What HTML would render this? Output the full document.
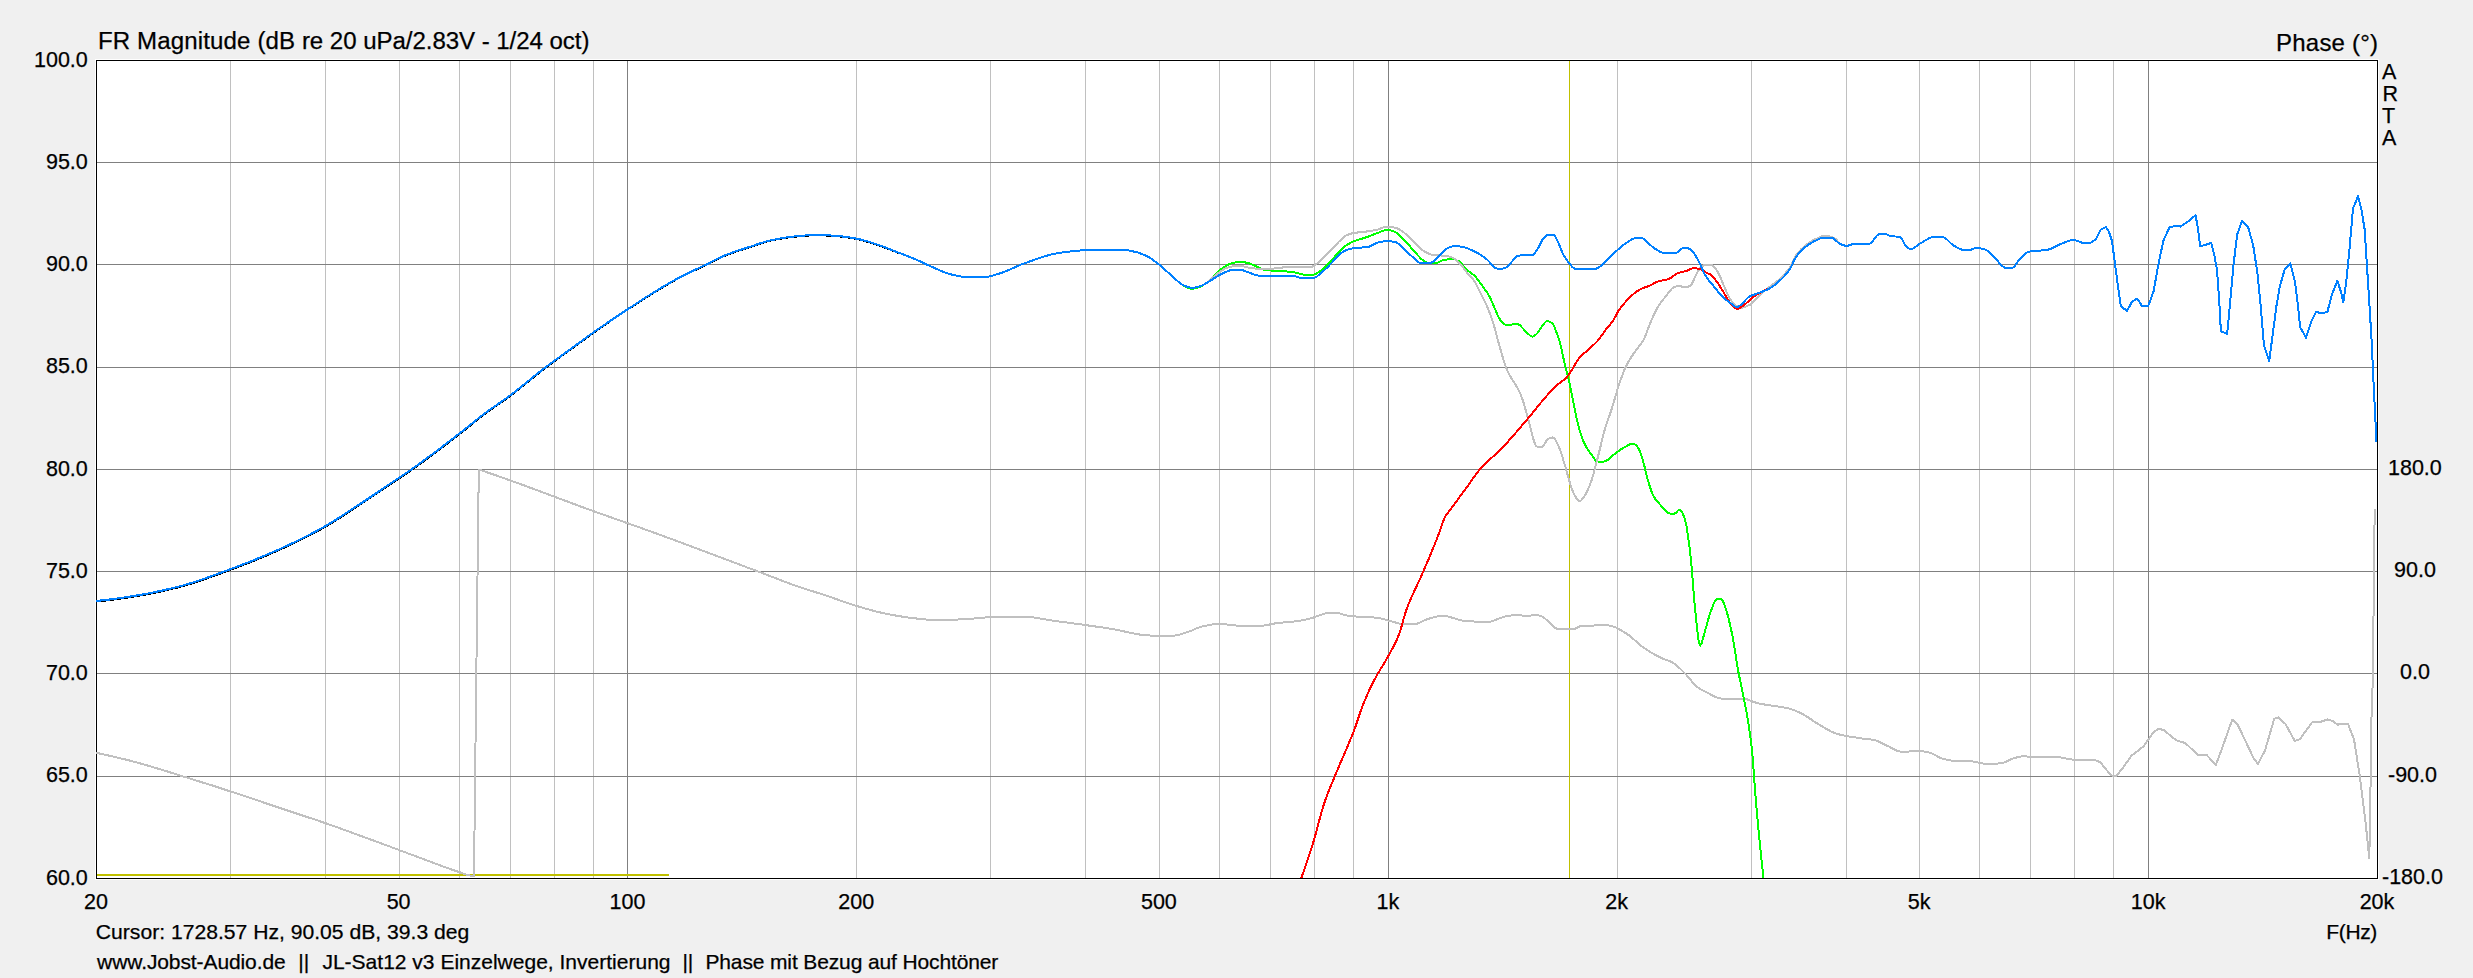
<!DOCTYPE html>
<html lang="de"><head><meta charset="utf-8"><title>FR Magnitude</title>
<style>html,body{margin:0;padding:0;background:#f0f0f0;overflow:hidden}body{width:2473px;height:978px;position:relative}text{white-space:pre}</style>
</head><body>
<svg width="2473" height="978" viewBox="0 0 2473 978" style="position:absolute;left:0;top:0">
<rect x="95" y="59" width="2284" height="821" fill="#fff"/>
<g shape-rendering="crispEdges"><rect x="230" y="61" width="1" height="817" fill="#c0c0c0"/><rect x="325" y="61" width="1" height="817" fill="#c0c0c0"/><rect x="399" y="61" width="1" height="817" fill="#c0c0c0"/><rect x="459" y="61" width="1" height="817" fill="#c0c0c0"/><rect x="510" y="61" width="1" height="817" fill="#c0c0c0"/><rect x="554" y="61" width="1" height="817" fill="#c0c0c0"/><rect x="593" y="61" width="1" height="817" fill="#c0c0c0"/><rect x="627" y="61" width="1" height="817" fill="#808080"/><rect x="856" y="61" width="1" height="817" fill="#c0c0c0"/><rect x="990" y="61" width="1" height="817" fill="#c0c0c0"/><rect x="1085" y="61" width="1" height="817" fill="#c0c0c0"/><rect x="1159" y="61" width="1" height="817" fill="#c0c0c0"/><rect x="1219" y="61" width="1" height="817" fill="#c0c0c0"/><rect x="1270" y="61" width="1" height="817" fill="#c0c0c0"/><rect x="1314" y="61" width="1" height="817" fill="#c0c0c0"/><rect x="1353" y="61" width="1" height="817" fill="#c0c0c0"/><rect x="1388" y="61" width="1" height="817" fill="#808080"/><rect x="1617" y="61" width="1" height="817" fill="#c0c0c0"/><rect x="1751" y="61" width="1" height="817" fill="#c0c0c0"/><rect x="1846" y="61" width="1" height="817" fill="#c0c0c0"/><rect x="1919" y="61" width="1" height="817" fill="#c0c0c0"/><rect x="1979" y="61" width="1" height="817" fill="#c0c0c0"/><rect x="2030" y="61" width="1" height="817" fill="#c0c0c0"/><rect x="2074" y="61" width="1" height="817" fill="#c0c0c0"/><rect x="2113" y="61" width="1" height="817" fill="#c0c0c0"/><rect x="2148" y="61" width="1" height="817" fill="#808080"/><rect x="97" y="776" width="2280" height="1" fill="#808080"/><rect x="97" y="673" width="2280" height="1" fill="#808080"/><rect x="97" y="571" width="2280" height="1" fill="#808080"/><rect x="97" y="469" width="2280" height="1" fill="#808080"/><rect x="97" y="367" width="2280" height="1" fill="#808080"/><rect x="97" y="264" width="2280" height="1" fill="#808080"/><rect x="97" y="162" width="2280" height="1" fill="#808080"/></g>
<rect x="97" y="874" width="572" height="2" fill="#c0c000"/>
<rect x="1569" y="61" width="1" height="817" fill="#c0c000"/>
<g shape-rendering="crispEdges" fill="#000"><rect x="96" y="60" width="2282" height="1"/><rect x="96" y="878" width="2282" height="1"/><rect x="96" y="60" width="1" height="819"/><rect x="2377" y="60" width="1" height="819"/></g>
<clipPath id="cp"><rect x="96" y="60" width="2282" height="819"/></clipPath><g clip-path="url(#cp)">
<polyline points="96.0,752.8 97.5,753.1 99.0,753.4 100.5,753.7 102.0,754.1 103.5,754.4 105.0,754.7 106.5,755.1 108.0,755.4 109.6,755.7 111.1,756.1 112.6,756.4 114.1,756.8 115.6,757.1 117.1,757.5 118.6,757.8 120.1,758.2 121.6,758.6 123.1,758.9 124.6,759.3 126.1,759.7 127.6,760.1 129.1,760.4 130.6,760.8 132.1,761.2 133.6,761.6 135.2,762.0 136.7,762.4 138.2,762.8 139.7,763.3 141.2,763.7 142.7,764.1 144.2,764.5 145.7,765.0 147.2,765.4 148.7,765.8 150.2,766.3 151.7,766.7 153.2,767.2 154.7,767.6 156.2,768.1 157.7,768.6 159.3,769.0 160.8,769.5 162.3,769.9 163.8,770.4 165.3,770.9 166.8,771.3 168.3,771.8 169.8,772.3 171.3,772.7 172.8,773.2 174.3,773.7 175.8,774.1 177.3,774.6 178.8,775.1 180.3,775.5 181.8,776.0 183.3,776.5 184.9,776.9 186.4,777.4 187.9,777.9 189.4,778.3 190.9,778.8 192.4,779.3 193.9,779.7 195.4,780.2 196.9,780.7 198.4,781.1 199.9,781.6 201.4,782.1 202.9,782.6 204.4,783.0 205.9,783.5 207.4,784.0 208.9,784.5 210.5,784.9 212.0,785.4 213.5,785.9 215.0,786.4 216.5,786.9 218.0,787.4 219.5,787.8 221.0,788.3 222.5,788.8 224.0,789.3 225.5,789.8 227.0,790.3 228.5,790.8 230.0,791.3 231.5,791.7 233.0,792.2 234.5,792.7 236.1,793.2 237.6,793.7 239.1,794.2 240.6,794.7 242.1,795.2 243.6,795.7 245.1,796.2 246.6,796.7 248.1,797.3 249.6,797.8 251.1,798.3 252.6,798.8 254.1,799.3 255.6,799.8 257.1,800.3 258.6,800.8 260.2,801.3 261.7,801.8 263.2,802.4 264.7,802.9 266.2,803.4 267.7,803.9 269.2,804.4 270.7,804.9 272.2,805.4 273.7,805.9 275.2,806.4 276.7,806.9 278.2,807.4 279.7,807.9 281.2,808.4 282.7,808.9 284.2,809.4 285.8,809.9 287.3,810.4 288.8,810.9 290.3,811.4 291.8,811.9 293.3,812.4 294.8,812.9 296.3,813.4 297.8,813.9 299.3,814.4 300.8,814.9 302.3,815.4 303.8,815.9 305.3,816.4 306.8,816.9 308.3,817.4 309.8,817.9 311.4,818.4 312.9,818.9 314.4,819.4 315.9,819.9 317.4,820.4 318.9,820.9 320.4,821.4 321.9,822.0 323.4,822.5 324.9,823.0 326.4,823.5 327.9,824.0 329.4,824.6 330.9,825.1 332.4,825.6 333.9,826.2 335.5,826.7 337.0,827.2 338.5,827.8 340.0,828.3 341.5,828.9 343.0,829.4 344.5,830.0 346.0,830.5 347.5,831.1 349.0,831.6 350.5,832.1 352.0,832.7 353.5,833.2 355.0,833.8 356.5,834.4 358.0,834.9 359.5,835.5 361.1,836.0 362.6,836.6 364.1,837.1 365.6,837.7 367.1,838.2 368.6,838.8 370.1,839.3 371.6,839.9 373.1,840.4 374.6,841.0 376.1,841.5 377.6,842.1 379.1,842.6 380.6,843.2 382.1,843.8 383.6,844.3 385.1,844.9 386.7,845.4 388.2,846.0 389.7,846.5 391.2,847.1 392.7,847.7 394.2,848.2 395.7,848.8 397.2,849.3 398.7,849.9 400.2,850.5 401.7,851.0 403.2,851.6 404.7,852.1 406.2,852.7 407.7,853.3 409.2,853.8 410.7,854.4 412.3,854.9 413.8,855.5 415.3,856.1 416.8,856.6 418.3,857.2 419.8,857.7 421.3,858.3 422.8,858.8 424.3,859.4 425.8,860.0 427.3,860.5 428.8,861.1 430.3,861.7 431.8,862.2 433.3,862.8 434.8,863.4 436.4,863.9 437.9,864.5 439.4,865.1 440.9,865.6 442.4,866.2 443.9,866.7 445.4,867.3 446.9,867.8 448.4,868.4 449.9,868.9 451.4,869.5 452.9,870.0 454.4,870.5 455.9,871.0 457.4,871.5 458.9,872.0 460.4,872.5 462.0,873.0 463.5,873.6 465.0,874.1 466.5,874.6 468.0,875.0 469.5,875.4 471.0,875.6 472.5,875.7 474.0,875.8 474.0,875.8 476.0,700.0 478.8,469.5 478.8,469.5 480.3,470.0 481.8,470.5 483.3,471.0 484.8,471.5 486.3,472.0 487.8,472.6 489.3,473.1 490.8,473.6 492.3,474.1 493.8,474.6 495.3,475.1 496.8,475.7 498.3,476.2 499.8,476.7 501.3,477.2 502.8,477.8 504.3,478.3 505.8,478.8 507.3,479.4 508.8,479.9 510.3,480.4 511.8,481.0 513.3,481.5 514.8,482.0 516.3,482.6 517.8,483.1 519.3,483.7 520.8,484.2 522.3,484.8 523.8,485.3 525.3,485.9 526.8,486.4 528.3,487.0 529.8,487.6 531.3,488.1 532.9,488.7 534.4,489.2 535.9,489.8 537.4,490.4 538.9,490.9 540.4,491.5 541.9,492.0 543.4,492.6 544.9,493.2 546.4,493.7 547.9,494.3 549.4,494.8 550.9,495.4 552.4,496.0 553.9,496.5 555.4,497.1 556.9,497.6 558.4,498.2 559.9,498.7 561.4,499.3 562.9,499.9 564.4,500.4 565.9,501.0 567.4,501.5 568.9,502.1 570.4,502.7 571.9,503.2 573.4,503.8 574.9,504.3 576.4,504.9 577.9,505.4 579.4,506.0 580.9,506.6 582.4,507.1 583.9,507.7 585.4,508.2 586.9,508.8 588.4,509.3 589.9,509.9 591.4,510.4 592.9,510.9 594.4,511.5 595.9,512.0 597.4,512.6 598.9,513.1 600.4,513.6 601.9,514.2 603.4,514.7 604.9,515.2 606.4,515.7 607.9,516.3 609.4,516.8 610.9,517.3 612.4,517.8 613.9,518.4 615.4,518.9 616.9,519.4 618.4,519.9 619.9,520.5 621.4,521.0 622.9,521.5 624.4,522.0 625.9,522.6 627.4,523.1 628.9,523.6 630.4,524.2 631.9,524.7 633.4,525.3 634.9,525.8 636.4,526.3 637.9,526.9 639.4,527.4 641.0,527.9 642.5,528.5 644.0,529.0 645.5,529.6 647.0,530.1 648.5,530.7 650.0,531.2 651.5,531.7 653.0,532.3 654.5,532.8 656.0,533.4 657.5,533.9 659.0,534.5 660.5,535.0 662.0,535.6 663.5,536.1 665.0,536.7 666.5,537.2 668.0,537.8 669.5,538.3 671.0,538.9 672.5,539.4 674.0,540.0 675.5,540.5 677.0,541.1 678.5,541.6 680.0,542.2 681.5,542.7 683.0,543.3 684.5,543.9 686.0,544.4 687.5,545.0 689.0,545.5 690.5,546.1 692.0,546.7 693.5,547.2 695.0,547.8 696.5,548.4 698.0,548.9 699.5,549.5 701.0,550.1 702.5,550.6 704.0,551.2 705.5,551.8 707.0,552.3 708.5,552.9 710.0,553.5 711.5,554.0 713.0,554.6 714.5,555.2 716.0,555.7 717.5,556.3 719.0,556.9 720.5,557.4 722.0,558.0 723.5,558.5 725.0,559.1 726.5,559.7 728.0,560.2 729.5,560.8 731.0,561.4 732.5,561.9 734.0,562.5 735.5,563.1 737.0,563.6 738.5,564.2 740.0,564.7 741.5,565.3 743.0,565.9 744.5,566.4 746.0,567.0 747.5,567.6 749.1,568.1 750.6,568.7 752.1,569.2 753.6,569.8 755.1,570.4 756.6,570.9 758.1,571.5 759.6,572.1 761.1,572.6 762.6,573.2 764.1,573.8 765.6,574.4 767.1,574.9 768.6,575.5 770.1,576.1 771.6,576.7 773.1,577.3 774.6,577.8 776.1,578.4 777.6,579.0 779.1,579.6 780.6,580.2 782.1,580.7 783.6,581.3 785.1,581.9 786.6,582.4 788.1,583.0 789.6,583.5 791.1,584.1 792.6,584.6 794.1,585.1 795.6,585.7 797.1,586.2 798.6,586.7 800.1,587.2 801.6,587.7 803.1,588.2 804.6,588.7 806.1,589.2 807.6,589.6 809.1,590.1 810.6,590.6 812.1,591.1 813.6,591.5 815.1,592.0 816.6,592.5 818.1,593.0 819.6,593.4 821.1,593.9 822.6,594.4 824.1,594.9 825.6,595.4 827.1,595.9 828.6,596.4 830.1,596.9 831.6,597.4 833.1,597.9 834.6,598.5 836.1,599.0 837.6,599.5 839.1,600.1 840.6,600.6 842.1,601.1 843.6,601.7 845.1,602.2 846.6,602.7 848.1,603.2 849.6,603.7 851.1,604.2 852.6,604.7 854.1,605.2 855.6,605.7 857.2,606.1 858.7,606.6 860.2,607.0 861.7,607.5 863.2,607.9 864.7,608.3 866.2,608.8 867.7,609.2 869.2,609.6 870.7,610.0 872.2,610.4 873.7,610.8 875.2,611.2 876.7,611.6 878.2,612.0 879.7,612.3 881.2,612.7 882.7,613.0 884.2,613.3 885.7,613.7 887.2,614.0 888.7,614.3 890.2,614.5 891.7,614.8 893.2,615.1 894.7,615.4 896.2,615.6 897.7,615.9 899.2,616.2 900.7,616.4 902.2,616.6 903.7,616.9 905.2,617.1 906.7,617.3 908.2,617.5 909.7,617.7 911.2,617.9 912.7,618.0 914.2,618.2 915.7,618.4 917.2,618.6 918.7,618.7 920.2,618.9 921.7,619.1 923.2,619.2 924.7,619.3 926.2,619.5 927.7,619.6 929.2,619.6 930.7,619.7 932.2,619.8 933.7,619.8 935.2,619.9 936.7,620.0 938.2,620.0 939.7,620.0 941.2,620.0 942.7,620.0 944.2,620.0 945.7,619.9 947.2,619.9 948.7,619.9 950.2,619.8 951.7,619.7 953.2,619.7 954.7,619.6 956.2,619.6 957.7,619.5 959.2,619.4 960.7,619.4 962.2,619.3 963.8,619.2 965.3,619.2 966.8,619.1 968.3,619.0 969.8,618.9 971.3,618.7 972.8,618.6 974.3,618.5 975.8,618.4 977.3,618.2 978.8,618.1 980.3,617.9 981.8,617.8 983.3,617.6 984.8,617.5 986.3,617.4 987.8,617.3 989.3,617.2 990.8,617.1 992.3,617.0 993.8,616.9 995.3,616.9 996.8,616.8 998.3,616.8 999.8,616.8 1001.3,616.8 1002.8,616.8 1004.3,616.8 1005.8,616.8 1007.3,616.8 1008.8,616.8 1010.3,616.8 1011.8,616.8 1013.3,616.8 1014.8,616.8 1016.3,616.8 1017.8,616.8 1019.3,616.8 1020.8,616.8 1022.3,616.8 1023.8,616.8 1025.3,616.8 1026.8,616.8 1028.3,616.9 1029.8,617.0 1031.3,617.2 1032.8,617.3 1034.3,617.5 1035.8,617.7 1037.3,618.0 1038.8,618.2 1040.3,618.5 1041.8,618.8 1043.3,619.0 1044.8,619.3 1046.3,619.6 1047.8,619.8 1049.3,620.1 1050.8,620.4 1052.3,620.6 1053.8,620.8 1055.3,621.0 1056.8,621.2 1058.3,621.4 1059.8,621.6 1061.3,621.8 1062.8,622.0 1064.3,622.2 1065.8,622.4 1067.3,622.6 1068.8,622.8 1070.3,623.0 1071.9,623.2 1073.4,623.4 1074.9,623.6 1076.4,623.8 1077.9,624.0 1079.4,624.2 1080.9,624.4 1082.4,624.6 1083.9,624.9 1085.4,625.1 1086.9,625.3 1088.4,625.5 1089.9,625.7 1091.4,625.9 1092.9,626.1 1094.4,626.3 1095.9,626.6 1097.4,626.8 1098.9,627.0 1100.4,627.2 1101.9,627.4 1103.4,627.6 1104.9,627.9 1106.4,628.1 1107.9,628.3 1109.4,628.6 1110.9,628.8 1112.4,629.0 1113.9,629.3 1115.4,629.6 1116.9,629.8 1118.4,630.1 1119.9,630.5 1121.4,630.8 1122.9,631.1 1124.4,631.5 1125.9,631.8 1127.4,632.1 1128.9,632.5 1130.4,632.8 1131.9,633.1 1133.4,633.4 1134.9,633.7 1136.4,634.0 1137.9,634.2 1139.4,634.5 1140.9,634.7 1142.4,634.8 1143.9,635.0 1145.4,635.1 1146.9,635.3 1148.4,635.4 1149.9,635.5 1151.4,635.7 1152.9,635.8 1154.4,635.9 1155.9,635.9 1157.4,636.0 1158.9,636.0 1160.4,636.0 1161.9,636.0 1163.4,636.0 1164.9,635.9 1166.4,635.9 1167.9,635.9 1169.4,635.8 1170.9,635.8 1172.4,635.7 1173.9,635.6 1175.4,635.5 1176.9,635.3 1178.4,635.0 1180.0,634.6 1181.5,634.1 1183.0,633.6 1184.5,633.1 1186.0,632.6 1187.5,632.2 1189.0,631.6 1190.5,631.0 1192.0,630.4 1193.5,629.7 1195.0,629.0 1196.5,628.4 1198.0,627.8 1199.5,627.2 1201.0,626.8 1202.5,626.4 1204.0,626.1 1205.5,625.8 1207.0,625.5 1208.5,625.2 1210.0,624.9 1211.5,624.6 1213.0,624.4 1214.5,624.2 1216.0,624.1 1217.5,624.0 1219.0,623.9 1220.5,623.9 1222.0,624.0 1223.5,624.1 1225.0,624.2 1226.5,624.4 1228.0,624.6 1229.5,624.8 1231.0,625.0 1232.5,625.2 1234.0,625.4 1235.5,625.5 1237.0,625.6 1238.5,625.7 1240.0,625.7 1241.5,625.7 1243.0,625.7 1244.5,625.7 1246.0,625.7 1247.5,625.7 1249.0,625.7 1250.5,625.7 1252.0,625.7 1253.5,625.7 1255.0,625.7 1256.5,625.7 1258.0,625.7 1259.5,625.7 1261.0,625.7 1262.5,625.7 1264.0,625.5 1265.5,625.3 1267.0,625.0 1268.5,624.7 1270.0,624.4 1271.5,624.0 1273.0,623.7 1274.5,623.5 1276.0,623.2 1277.5,623.1 1279.0,622.9 1280.5,622.8 1282.0,622.6 1283.5,622.5 1285.0,622.4 1286.6,622.2 1288.1,622.1 1289.6,622.0 1291.1,621.8 1292.6,621.7 1294.1,621.5 1295.6,621.3 1297.1,621.1 1298.6,620.9 1300.1,620.7 1301.6,620.4 1303.1,620.1 1304.6,619.8 1306.1,619.5 1307.6,619.2 1309.1,618.8 1310.6,618.4 1312.1,618.0 1313.6,617.4 1315.1,616.8 1316.6,616.2 1318.1,615.7 1319.6,615.2 1321.1,614.7 1322.6,614.2 1324.1,613.7 1325.6,613.3 1327.1,613.1 1328.6,613.0 1330.1,613.0 1331.6,613.0 1333.1,613.0 1334.6,613.0 1336.1,613.0 1337.6,613.1 1339.1,613.3 1340.6,613.6 1342.1,614.1 1343.6,614.6 1345.1,615.0 1346.6,615.5 1348.1,615.9 1349.6,616.1 1351.1,616.2 1352.6,616.3 1354.1,616.4 1355.6,616.5 1357.1,616.5 1358.6,616.6 1360.1,616.6 1361.6,616.7 1363.1,616.7 1364.6,616.8 1366.1,616.9 1367.6,617.0 1369.1,617.1 1370.6,617.2 1372.1,617.3 1373.6,617.4 1375.1,617.6 1376.6,617.7 1378.1,617.9 1379.6,618.1 1381.1,618.5 1382.6,618.8 1384.1,619.3 1385.6,619.8 1387.1,620.2 1388.6,620.7 1390.1,621.1 1391.6,621.5 1393.1,621.9 1394.7,622.3 1396.2,622.7 1397.7,623.1 1399.2,623.5 1400.7,623.7 1402.2,623.9 1403.7,623.9 1405.2,623.9 1406.7,623.9 1408.2,623.9 1409.7,623.9 1411.2,623.9 1412.7,623.9 1414.2,623.9 1415.7,623.9 1417.2,623.6 1418.7,623.1 1420.2,622.5 1421.7,621.7 1423.2,621.0 1424.7,620.2 1426.2,619.6 1427.7,619.1 1429.2,618.6 1430.7,618.2 1432.2,617.7 1433.7,617.3 1435.2,616.9 1436.7,616.5 1438.2,616.2 1439.7,616.0 1441.2,615.8 1442.7,615.8 1444.2,615.9 1445.7,616.1 1447.2,616.4 1448.7,616.7 1450.2,617.1 1451.7,617.6 1453.2,618.0 1454.7,618.5 1456.2,619.0 1457.7,619.5 1459.2,619.9 1460.7,620.3 1462.2,620.6 1463.7,620.8 1465.2,620.9 1466.7,621.0 1468.2,621.1 1469.7,621.2 1471.2,621.3 1472.7,621.4 1474.2,621.5 1475.7,621.6 1477.2,621.7 1478.7,621.7 1480.2,621.8 1481.7,621.8 1483.2,621.9 1484.7,621.9 1486.2,621.9 1487.7,621.9 1489.2,621.8 1490.7,621.5 1492.2,621.1 1493.7,620.6 1495.2,620.1 1496.7,619.5 1498.2,618.9 1499.7,618.2 1501.2,617.7 1502.8,617.2 1504.3,616.7 1505.8,616.4 1507.3,616.1 1508.8,615.8 1510.3,615.6 1511.8,615.3 1513.3,615.1 1514.8,615.0 1516.3,615.0 1517.8,615.1 1519.3,615.2 1520.8,615.3 1522.3,615.5 1523.8,615.7 1525.3,615.9 1526.8,616.0 1528.3,616.0 1529.8,615.8 1531.3,615.5 1532.8,615.1 1534.3,614.9 1535.8,614.8 1537.3,615.0 1538.8,615.4 1540.3,616.0 1541.8,616.5 1543.3,617.3 1544.8,618.4 1546.3,619.7 1547.8,621.1 1549.3,622.6 1550.8,624.2 1552.3,625.6 1553.8,626.9 1555.3,628.0 1556.8,628.7 1558.3,629.1 1559.8,629.1 1561.3,629.1 1562.8,629.1 1564.3,629.1 1565.8,629.1 1567.3,629.1 1568.8,629.1 1570.3,629.1 1571.8,629.1 1573.3,629.1 1574.8,628.8 1576.3,628.1 1577.8,627.3 1579.3,626.5 1580.8,626.1 1582.3,625.9 1583.8,625.9 1585.3,625.8 1586.8,625.8 1588.3,625.8 1589.8,625.7 1591.3,625.7 1592.8,625.6 1594.3,625.5 1595.8,625.4 1597.3,625.1 1598.8,624.9 1600.3,624.7 1601.8,624.6 1603.3,624.6 1604.8,624.8 1606.3,625.0 1607.8,625.2 1609.3,625.5 1610.9,625.8 1612.4,626.2 1613.9,626.7 1615.4,627.3 1616.9,628.1 1618.4,628.8 1619.9,629.7 1621.4,630.6 1622.9,631.5 1624.4,632.4 1625.9,633.3 1627.4,634.3 1628.9,635.3 1630.4,636.5 1631.9,637.7 1633.4,639.0 1634.9,640.4 1636.4,641.7 1637.9,643.1 1639.4,644.4 1640.9,645.6 1642.4,646.8 1643.9,647.9 1645.4,648.9 1646.9,649.9 1648.4,650.9 1649.9,651.8 1651.4,652.7 1652.9,653.5 1654.4,654.4 1655.9,655.2 1657.4,656.0 1658.9,656.7 1660.4,657.5 1661.9,658.2 1663.4,658.8 1664.9,659.4 1666.4,659.9 1667.9,660.4 1669.4,661.0 1670.9,661.6 1672.4,662.4 1673.9,663.4 1675.4,664.5 1676.9,665.8 1678.4,667.1 1679.9,668.5 1681.4,669.9 1682.9,671.4 1684.4,672.8 1685.9,674.4 1687.4,676.1 1688.9,677.9 1690.4,679.7 1691.9,681.5 1693.4,683.2 1694.9,684.8 1696.4,686.2 1697.9,687.4 1699.4,688.5 1700.9,689.4 1702.4,690.2 1703.9,691.0 1705.4,691.8 1706.9,692.5 1708.4,693.3 1709.9,694.1 1711.4,694.9 1712.9,695.7 1714.4,696.4 1715.9,697.1 1717.5,697.7 1719.0,698.1 1720.5,698.4 1722.0,698.6 1723.5,698.6 1725.0,698.6 1726.5,698.6 1728.0,698.6 1729.5,698.6 1731.0,698.6 1732.5,698.6 1734.0,698.6 1735.5,698.6 1737.0,698.6 1738.5,698.6 1740.0,698.6 1741.5,698.6 1743.0,698.6 1744.5,698.7 1746.0,699.0 1747.5,699.5 1749.0,700.0 1750.5,700.6 1752.0,701.2 1753.5,701.9 1755.0,702.4 1756.5,702.9 1758.0,703.3 1759.5,703.6 1761.0,703.9 1762.5,704.2 1764.0,704.4 1765.5,704.7 1767.0,704.9 1768.5,705.1 1770.0,705.3 1771.5,705.6 1773.0,705.8 1774.5,706.0 1776.0,706.2 1777.5,706.4 1779.0,706.6 1780.5,706.9 1782.0,707.1 1783.5,707.4 1785.0,707.7 1786.5,708.0 1788.0,708.3 1789.5,708.7 1791.0,709.1 1792.5,709.6 1794.0,710.2 1795.5,710.8 1797.0,711.4 1798.5,712.1 1800.0,712.8 1801.5,713.6 1803.0,714.3 1804.5,715.2 1806.0,716.1 1807.5,717.0 1809.0,718.0 1810.5,719.0 1812.0,720.0 1813.5,721.1 1815.0,722.1 1816.5,723.0 1818.0,723.9 1819.5,724.8 1821.0,725.7 1822.5,726.6 1824.0,727.5 1825.6,728.4 1827.1,729.3 1828.6,730.1 1830.1,731.0 1831.6,731.7 1833.1,732.4 1834.6,733.0 1836.1,733.5 1837.6,734.0 1839.1,734.4 1840.6,734.8 1842.1,735.1 1843.6,735.4 1845.1,735.7 1846.6,736.0 1848.1,736.3 1849.6,736.6 1851.1,736.8 1852.6,737.1 1854.1,737.3 1855.6,737.5 1857.1,737.8 1858.6,738.0 1860.1,738.2 1861.6,738.4 1863.1,738.6 1864.6,738.7 1866.1,738.9 1867.6,739.0 1869.1,739.2 1870.6,739.4 1872.1,739.6 1873.6,739.9 1875.1,740.2 1876.6,740.7 1878.1,741.4 1879.6,742.1 1881.1,742.8 1882.6,743.6 1884.1,744.3 1885.6,745.0 1887.1,745.7 1888.6,746.4 1890.1,747.2 1891.6,748.0 1893.1,748.8 1894.6,749.6 1896.1,750.3 1897.6,750.9 1899.1,751.3 1900.6,751.7 1902.1,751.8 1903.6,751.8 1905.1,751.7 1906.6,751.7 1908.1,751.6 1909.6,751.5 1911.1,751.3 1912.6,751.2 1914.1,751.1 1915.6,751.1 1917.1,751.0 1918.6,751.0 1920.1,751.1 1921.6,751.2 1923.1,751.4 1924.6,751.6 1926.1,751.9 1927.6,752.3 1929.1,752.6 1930.6,753.0 1932.1,753.5 1933.7,754.2 1935.2,755.1 1936.7,756.0 1938.2,756.9 1939.7,757.6 1941.2,758.2 1942.7,758.6 1944.2,759.0 1945.7,759.4 1947.2,759.8 1948.7,760.1 1950.2,760.4 1951.7,760.7 1953.2,760.8 1954.7,761.0 1956.2,761.0 1957.7,761.1 1959.2,761.1 1960.7,761.2 1962.2,761.2 1963.7,761.2 1965.2,761.2 1966.7,761.3 1968.2,761.3 1969.7,761.3 1971.2,761.4 1972.7,761.5 1974.2,761.7 1975.7,762.0 1977.2,762.3 1978.7,762.7 1980.2,763.0 1981.7,763.3 1983.2,763.6 1984.7,763.8 1986.2,763.8 1987.7,763.8 1989.2,763.8 1990.7,763.8 1992.2,763.7 1993.7,763.7 1995.2,763.6 1996.7,763.6 1998.2,763.5 1999.7,763.4 2001.2,763.3 2002.7,763.0 2004.2,762.5 2005.7,761.9 2007.2,761.2 2008.7,760.4 2010.2,759.7 2011.7,759.1 2013.2,758.5 2014.7,758.0 2016.2,757.6 2017.7,757.2 2019.2,756.9 2020.7,756.5 2022.2,756.3 2023.7,756.1 2025.2,756.1 2026.7,756.4 2028.2,756.7 2029.7,757.0 2031.2,757.1 2032.7,757.1 2034.2,757.1 2035.7,757.1 2037.2,757.1 2038.7,757.1 2040.2,757.1 2041.8,757.1 2043.3,757.1 2044.8,757.1 2046.3,757.1 2047.8,757.1 2049.3,757.1 2050.8,757.1 2052.3,757.1 2053.8,757.1 2055.3,757.1 2056.8,757.1 2058.3,757.2 2059.8,757.4 2061.3,757.6 2062.8,757.9 2064.3,758.2 2065.8,758.5 2067.3,758.8 2068.8,759.0 2070.3,759.3 2071.8,759.5 2073.3,759.7 2074.8,759.8 2076.3,759.8 2077.8,759.8 2079.3,759.8 2080.8,759.8 2082.3,759.8 2083.8,759.8 2085.3,759.8 2086.8,759.8 2088.3,759.8 2089.8,759.8 2091.3,759.8 2092.8,759.8 2094.3,759.8 2094.3,759.8 2100.4,762.2 2106.5,770.0 2111.7,775.5 2116.8,775.5 2122.9,767.9 2131.1,756.1 2143.4,746.5 2153.6,732.1 2158.7,728.7 2163.8,730.1 2176.1,740.3 2185.3,743.0 2197.5,754.6 2206.7,755.1 2215.9,764.9 2223.1,745.4 2232.3,719.5 2237.4,724.0 2245.6,741.3 2253.8,758.7 2257.9,763.8 2265.0,750.6 2274.2,718.9 2278.3,717.4 2285.5,724.0 2294.7,740.9 2299.8,739.3 2312.1,722.3 2320.2,721.9 2327.4,719.5 2332.5,720.9 2337.6,724.6 2347.9,723.6 2354.0,739.3 2360.1,778.2 2365.2,819.1 2369.3,857.9 2370.3,802.7 2371.4,720.9 2372.8,680.0 2374.7,509.0" fill="none" stroke="#c0c0c0" stroke-width="2" stroke-linejoin="round" shape-rendering="crispEdges"/>
<polyline points="1183.3,285.6 1184.8,286.5 1186.3,287.3 1187.8,288.0 1189.3,288.4 1190.8,288.6 1192.3,288.7 1193.8,288.5 1195.4,288.3 1196.9,287.9 1198.4,287.4 1199.9,286.9 1201.4,286.2 1202.9,285.3 1204.4,284.3 1205.9,283.2 1207.4,282.1 1208.9,280.9 1210.4,279.6 1211.9,278.1 1213.4,276.5 1214.9,274.9 1216.5,273.4 1218.0,271.8 1219.5,270.4 1221.0,269.1 1222.5,268.1 1224.0,267.1 1225.5,266.1 1227.0,265.3 1228.5,264.5 1230.0,263.9 1231.5,263.4 1233.0,263.0 1234.5,262.6 1236.0,262.2 1237.6,262.0 1239.1,261.8 1240.6,261.8 1242.1,261.9 1243.6,262.1 1245.1,262.4 1246.6,262.8 1248.1,263.1 1249.6,263.5 1251.1,264.1 1252.6,264.7 1254.1,265.4 1255.6,266.1 1257.1,266.7 1258.7,267.4 1260.2,268.2 1261.7,269.0 1263.2,269.7 1264.7,270.1 1266.2,270.2 1267.7,270.3 1269.2,270.4 1270.7,270.5 1272.2,270.6 1273.7,270.6 1275.2,270.7 1276.7,270.8 1278.2,270.8 1279.7,270.9 1281.3,271.0 1282.8,271.1 1284.3,271.2 1285.8,271.4 1287.3,271.5 1288.8,271.6 1290.3,271.8 1291.8,271.9 1293.3,272.1 1294.8,272.4 1296.3,272.7 1297.8,273.2 1299.3,273.6 1300.8,274.0 1302.4,274.4 1303.9,274.7 1305.4,274.8 1306.9,274.8 1308.4,274.8 1309.9,274.8 1311.4,274.8 1312.9,274.8 1314.4,274.5 1315.9,273.9 1317.4,273.0 1318.9,272.0 1320.4,270.9 1321.9,269.8 1323.5,268.6 1325.0,267.2 1326.5,265.6 1328.0,264.0 1329.5,262.3 1331.0,260.6 1332.5,259.0 1334.0,257.5 1335.5,255.9 1337.0,254.2 1338.5,252.5 1340.0,250.9 1341.5,249.4 1343.0,247.9 1344.6,246.6 1346.1,245.5 1347.6,244.5 1349.1,243.6 1350.6,242.8 1352.1,242.0 1353.6,241.3 1355.1,240.7 1356.6,240.2 1358.1,239.7 1359.6,239.3 1361.1,238.9 1362.6,238.5 1364.1,238.0 1365.6,237.5 1367.2,237.0 1368.7,236.4 1370.2,235.8 1371.7,235.3 1373.2,234.7 1374.7,234.1 1376.2,233.5 1377.7,233.0 1379.2,232.4 1380.7,231.7 1382.2,231.1 1383.7,230.6 1385.2,230.2 1386.7,229.9 1388.3,229.9 1389.8,230.2 1391.3,230.6 1392.8,231.1 1394.3,231.7 1395.8,232.3 1397.3,233.2 1398.8,234.5 1400.3,235.9 1401.8,237.5 1403.3,239.2 1404.8,240.9 1406.3,242.5 1407.8,244.1 1409.4,245.7 1410.9,247.5 1412.4,249.2 1413.9,250.9 1415.4,252.5 1416.9,254.2 1418.4,255.9 1419.9,257.5 1421.4,259.0 1422.9,260.2 1424.4,261.1 1425.9,261.9 1427.4,262.6 1428.9,262.9 1430.5,262.9 1432.0,262.9 1433.5,262.9 1435.0,262.9 1436.5,262.9 1438.0,262.6 1439.5,261.9 1441.0,261.1 1442.5,260.4 1444.0,260.0 1445.5,259.7 1447.0,259.5 1448.5,259.2 1450.0,259.1 1451.5,259.0 1453.1,259.1 1454.6,259.4 1456.1,260.0 1457.6,260.7 1459.1,261.4 1460.6,262.6 1462.1,264.4 1463.6,266.3 1465.1,268.2 1466.6,269.7 1468.1,270.9 1469.6,272.0 1471.1,273.0 1472.6,274.2 1474.2,275.5 1475.7,277.0 1477.2,278.8 1478.7,280.7 1480.2,282.8 1481.7,284.9 1483.2,287.0 1484.7,289.1 1486.2,291.2 1487.7,293.4 1489.2,296.0 1490.7,299.0 1492.2,302.5 1493.7,306.1 1495.3,309.6 1496.8,313.4 1498.3,316.8 1499.8,319.2 1501.3,321.4 1502.8,323.2 1504.3,324.4 1505.8,324.7 1507.3,324.8 1508.8,324.9 1510.3,324.9 1511.8,324.5 1513.3,324.0 1514.8,324.0 1516.3,324.1 1517.9,324.3 1519.4,324.8 1520.9,326.2 1522.4,327.9 1523.9,329.5 1525.4,331.0 1526.9,332.6 1528.4,334.0 1529.9,335.4 1531.4,336.5 1532.9,336.6 1534.4,335.8 1535.9,334.6 1537.4,333.1 1539.0,331.0 1540.5,328.4 1542.0,326.1 1543.5,324.2 1545.0,322.4 1546.5,321.2 1548.0,321.1 1549.5,321.6 1551.0,322.5 1552.5,323.8 1554.0,325.8 1555.5,329.7 1557.0,333.8 1558.5,337.7 1560.1,342.8 1561.6,349.6 1563.1,356.8 1564.6,363.4 1566.1,369.3 1567.6,375.1 1569.1,381.4 1570.6,388.6 1572.1,396.2 1573.6,403.7 1575.1,410.9 1576.6,418.1 1578.1,424.7 1579.6,430.2 1581.2,435.0 1582.7,439.3 1584.2,443.0 1585.7,446.1 1587.2,448.7 1588.7,451.0 1590.2,453.0 1591.7,455.0 1593.2,457.0 1594.7,459.3 1596.2,461.0 1597.7,461.5 1599.2,461.5 1600.7,461.5 1602.2,461.5 1603.8,461.5 1605.3,461.2 1606.8,460.5 1608.3,459.5 1609.8,458.3 1611.3,456.9 1612.8,455.6 1614.3,454.2 1615.8,453.0 1617.3,451.9 1618.8,450.9 1620.3,449.9 1621.8,448.8 1623.3,447.9 1624.9,447.0 1626.4,446.2 1627.9,445.4 1629.4,444.6 1630.9,444.0 1632.4,443.6 1633.9,443.8 1635.4,444.8 1636.9,446.3 1638.4,448.2 1639.9,451.4 1641.4,455.6 1642.9,460.3 1644.4,466.1 1646.0,472.7 1647.5,478.7 1649.0,483.7 1650.5,488.5 1652.0,492.7 1653.5,496.0 1655.0,498.5 1656.5,500.6 1658.0,502.3 1659.5,504.0 1661.0,505.6 1662.5,507.5 1664.0,509.3 1665.5,510.9 1667.1,512.3 1668.6,513.2 1670.1,513.5 1671.6,513.5 1673.1,513.5 1674.6,513.5 1676.1,512.6 1677.6,510.9 1679.1,509.7 1680.6,510.1 1682.1,512.2 1683.6,515.6 1685.1,519.7 1686.6,526.7 1688.1,536.8 1689.7,548.8 1691.2,562.1 1692.7,580.2 1694.2,599.3 1695.7,614.6 1697.2,629.8 1698.7,641.7 1700.2,645.7 1701.7,643.0 1703.2,637.7 1704.7,632.1 1706.2,627.0 1707.7,621.5 1709.2,616.0 1710.8,611.3 1712.3,607.4 1713.8,603.5 1715.3,600.4 1716.8,599.2 1718.3,599.2 1719.8,599.2 1721.3,599.2 1722.8,600.7 1724.3,604.4 1725.8,609.1 1727.3,613.8 1728.8,619.4 1730.3,626.0 1731.9,633.2 1733.4,640.9 1734.9,650.3 1736.4,660.2 1737.9,669.3 1739.4,677.0 1740.9,684.1 1742.4,691.1 1743.9,698.6 1745.4,706.2 1746.9,714.2 1748.4,723.2 1749.9,733.1 1751.4,744.9 1753.0,761.3 1754.5,782.8 1756.0,801.7 1757.5,818.9 1759.0,835.0 1760.5,850.2 1762.0,864.6 1763.5,878.0" fill="none" stroke="#00ff00" stroke-width="2" stroke-linejoin="round" shape-rendering="crispEdges"/>
<polyline points="1207.7,282.3 1209.2,280.8 1210.7,279.4 1212.2,278.1 1213.7,276.8 1215.2,275.6 1216.7,274.4 1218.2,273.2 1219.7,272.1 1221.3,271.1 1222.8,270.0 1224.3,269.0 1225.8,268.2 1227.3,267.7 1228.8,267.3 1230.3,266.9 1231.8,266.5 1233.3,266.2 1234.8,265.9 1236.3,265.7 1237.8,265.6 1239.3,265.6 1240.8,265.7 1242.3,266.0 1243.8,266.4 1245.3,266.8 1246.9,267.2 1248.4,267.6 1249.9,267.9 1251.4,268.1 1252.9,268.3 1254.4,268.4 1255.9,268.6 1257.4,268.7 1258.9,268.8 1260.4,269.0 1261.9,269.0 1263.4,269.1 1264.9,269.1 1266.4,269.1 1267.9,269.0 1269.4,268.9 1271.0,268.8 1272.5,268.7 1274.0,268.5 1275.5,268.4 1277.0,268.2 1278.5,268.1 1280.0,267.9 1281.5,267.7 1283.0,267.4 1284.5,267.1 1286.0,266.9 1287.5,266.8 1289.0,266.8 1290.5,266.8 1292.0,266.8 1293.5,266.8 1295.0,266.8 1296.6,266.8 1298.1,266.8 1299.6,266.8 1301.1,266.8 1302.6,266.8 1304.1,266.9 1305.6,266.9 1307.1,266.9 1308.6,267.0 1310.1,267.0 1311.6,266.9 1313.1,266.2 1314.6,265.2 1316.1,264.2 1317.6,263.1 1319.1,261.8 1320.6,260.4 1322.2,259.0 1323.7,257.6 1325.2,256.1 1326.7,254.6 1328.2,253.1 1329.7,251.6 1331.2,250.0 1332.7,248.4 1334.2,246.7 1335.7,245.1 1337.2,243.5 1338.7,241.9 1340.2,240.5 1341.7,239.1 1343.2,237.7 1344.7,236.5 1346.2,235.4 1347.8,234.7 1349.3,234.2 1350.8,233.7 1352.3,233.3 1353.8,233.0 1355.3,232.8 1356.8,232.6 1358.3,232.4 1359.8,232.3 1361.3,232.1 1362.8,232.0 1364.3,231.8 1365.8,231.6 1367.3,231.4 1368.8,231.2 1370.3,231.0 1371.8,230.7 1373.4,230.5 1374.9,230.2 1376.4,229.9 1377.9,229.5 1379.4,229.0 1380.9,228.3 1382.4,227.7 1383.9,227.2 1385.4,226.9 1386.9,226.8 1388.4,226.9 1389.9,227.0 1391.4,227.2 1392.9,227.4 1394.4,227.6 1395.9,227.9 1397.5,228.4 1399.0,229.2 1400.5,230.2 1402.0,231.2 1403.5,232.2 1405.0,233.4 1406.5,234.7 1408.0,236.1 1409.5,237.6 1411.0,239.1 1412.5,240.5 1414.0,242.0 1415.5,243.6 1417.0,245.2 1418.5,246.8 1420.0,248.2 1421.5,249.4 1423.1,250.5 1424.6,251.5 1426.1,252.4 1427.6,253.1 1429.1,253.7 1430.6,254.3 1432.1,254.8 1433.6,255.1 1435.1,255.3 1436.6,255.3 1438.1,255.4 1439.6,255.4 1441.1,255.5 1442.6,255.5 1444.1,255.6 1445.6,255.7 1447.1,255.9 1448.7,256.3 1450.2,256.8 1451.7,257.3 1453.2,258.0 1454.7,258.9 1456.2,260.1 1457.7,261.6 1459.2,263.1 1460.7,264.6 1462.2,266.4 1463.7,268.3 1465.2,270.3 1466.7,272.2 1468.2,274.0 1469.7,275.6 1471.2,277.2 1472.7,279.0 1474.3,280.9 1475.8,283.4 1477.3,286.3 1478.8,289.6 1480.3,292.7 1481.8,295.7 1483.3,298.7 1484.8,301.6 1486.3,304.8 1487.8,308.2 1489.3,311.8 1490.8,315.7 1492.3,320.1 1493.8,324.9 1495.3,330.2 1496.8,335.8 1498.3,341.8 1499.9,347.5 1501.4,352.8 1502.9,358.0 1504.4,362.8 1505.9,367.1 1507.4,370.7 1508.9,373.8 1510.4,376.6 1511.9,379.1 1513.4,381.4 1514.9,383.8 1516.4,386.2 1517.9,388.8 1519.4,391.7 1520.9,395.1 1522.4,399.1 1524.0,404.1 1525.5,409.5 1527.0,415.0 1528.5,420.2 1530.0,425.6 1531.5,431.7 1533.0,437.7 1534.5,442.7 1536.0,446.0 1537.5,446.8 1539.0,446.8 1540.5,446.8 1542.0,446.8 1543.5,445.7 1545.0,443.2 1546.5,440.5 1548.0,438.8 1549.6,438.2 1551.1,437.8 1552.6,437.5 1554.1,437.9 1555.6,440.0 1557.1,442.9 1558.6,446.0 1560.1,449.8 1561.6,454.3 1563.1,459.3 1564.6,464.3 1566.1,469.3 1567.6,474.8 1569.1,480.3 1570.6,485.1 1572.1,489.4 1573.6,493.3 1575.2,496.3 1576.7,498.7 1578.2,500.7 1579.7,501.3 1581.2,500.4 1582.7,498.6 1584.2,496.3 1585.7,494.0 1587.2,491.2 1588.7,487.8 1590.2,484.0 1591.7,479.8 1593.2,474.9 1594.7,469.4 1596.2,463.6 1597.7,457.8 1599.2,451.7 1600.8,445.3 1602.3,439.0 1603.8,433.1 1605.3,427.9 1606.8,423.2 1608.3,418.8 1609.8,414.6 1611.3,410.2 1612.8,405.4 1614.3,400.3 1615.8,395.1 1617.3,390.0 1618.8,385.2 1620.3,380.8 1621.8,376.7 1623.3,372.7 1624.8,369.0 1626.4,365.7 1627.9,362.8 1629.4,360.1 1630.9,357.7 1632.4,355.4 1633.9,353.1 1635.4,351.0 1636.9,349.0 1638.4,347.2 1639.9,345.3 1641.4,343.3 1642.9,341.0 1644.4,338.2 1645.9,334.5 1647.4,330.3 1648.9,326.4 1650.5,322.7 1652.0,319.1 1653.5,315.6 1655.0,312.3 1656.5,309.3 1658.0,306.7 1659.5,304.4 1661.0,302.3 1662.5,300.4 1664.0,298.5 1665.5,296.7 1667.0,294.8 1668.5,292.8 1670.0,290.8 1671.5,289.0 1673.0,287.7 1674.5,286.9 1676.1,286.5 1677.6,286.2 1679.1,286.0 1680.6,286.2 1682.1,286.7 1683.6,287.1 1685.1,287.2 1686.6,287.0 1688.1,286.6 1689.6,286.0 1691.1,285.1 1692.6,282.5 1694.1,279.1 1695.6,276.0 1697.1,273.0 1698.6,270.2 1700.1,268.0 1701.7,266.7 1703.2,265.5 1704.7,264.9 1706.2,264.8 1707.7,264.8 1709.2,264.8 1710.7,264.8 1712.2,265.0 1713.7,266.2 1715.2,268.1 1716.7,270.3 1718.2,272.7 1719.7,275.7 1721.2,279.3 1722.7,283.0 1724.2,286.4 1725.7,290.0 1727.3,293.5 1728.8,296.7 1730.3,299.2 1731.8,301.5 1733.3,303.4 1734.8,304.8 1736.3,305.8 1737.8,306.8 1739.3,307.4 1740.8,307.7 1742.3,307.6 1743.8,307.3 1745.3,306.8 1746.8,306.2 1748.3,305.5 1749.8,304.8 1751.3,303.8 1752.9,302.4 1754.4,300.7 1755.9,299.0 1757.4,297.2 1758.9,295.7 1760.4,294.4 1761.9,293.1 1763.4,291.8 1764.9,290.6 1766.4,289.3 1767.9,288.1 1769.4,286.9 1770.9,285.8 1772.4,284.7 1773.9,283.6 1775.4,282.5 1777.0,281.3 1778.5,280.0 1780.0,278.6 1781.5,277.2 1783.0,275.7 1784.5,274.1 1786.0,272.4 1787.5,270.6 1789.0,268.6 1790.5,266.4 1792.0,263.4 1793.5,260.1 1795.0,257.1 1796.5,254.8 1798.0,252.8 1799.5,251.0 1801.0,249.4 1802.6,247.9 1804.1,246.5 1805.6,245.3 1807.1,244.1 1808.6,243.0 1810.1,242.1 1811.6,241.1 1813.1,240.3 1814.6,239.5 1816.1,238.8 1817.6,238.1 1819.1,237.4 1820.6,236.7 1822.1,236.2 1823.6,235.9 1825.1,235.8 1826.6,235.9 1828.2,236.2 1829.7,236.5 1831.2,236.9 1832.7,237.4 1834.2,238.0 1835.7,239.1 1837.2,240.6 1838.7,242.3 1840.2,244.1" fill="none" stroke="#c0c0c0" stroke-width="2" stroke-linejoin="round" shape-rendering="crispEdges"/>
<polyline points="1301.3,878.0 1302.8,873.8 1304.3,869.5 1305.8,865.2 1307.3,860.7 1308.8,856.1 1310.3,851.5 1311.9,846.7 1313.4,841.8 1314.9,836.6 1316.4,831.2 1317.9,825.6 1319.4,820.0 1320.9,814.5 1322.4,809.2 1323.9,804.3 1325.4,799.8 1326.9,795.6 1328.4,791.7 1329.9,787.9 1331.5,784.3 1333.0,780.7 1334.5,777.1 1336.0,773.4 1337.5,769.8 1339.0,766.2 1340.5,762.7 1342.0,759.2 1343.5,755.8 1345.0,752.3 1346.5,748.8 1348.0,745.2 1349.5,741.6 1351.1,737.9 1352.6,734.2 1354.1,730.3 1355.6,726.1 1357.1,721.8 1358.6,717.3 1360.1,712.9 1361.6,708.6 1363.1,704.6 1364.6,700.9 1366.1,697.3 1367.6,693.9 1369.1,690.5 1370.7,687.3 1372.2,684.2 1373.7,681.2 1375.2,678.4 1376.7,675.6 1378.2,673.0 1379.7,670.5 1381.2,668.1 1382.7,665.6 1384.2,663.2 1385.7,660.6 1387.2,658.0 1388.7,655.3 1390.3,652.5 1391.8,649.7 1393.3,646.9 1394.8,644.0 1396.3,640.8 1397.8,637.4 1399.3,633.5 1400.8,628.9 1402.3,623.7 1403.8,618.3 1405.3,613.2 1406.8,608.7 1408.3,604.7 1409.9,601.0 1411.4,597.5 1412.9,594.1 1414.4,590.8 1415.9,587.6 1417.4,584.5 1418.9,581.3 1420.4,578.0 1421.9,574.7 1423.4,571.2 1424.9,567.7 1426.4,564.2 1428.0,560.6 1429.5,557.0 1431.0,553.4 1432.5,549.7 1434.0,546.1 1435.5,542.3 1437.0,538.6 1438.5,534.6 1440.0,530.3 1441.5,525.9 1443.0,521.8 1444.5,518.1 1446.0,515.3 1447.6,513.1 1449.1,511.2 1450.6,509.2 1452.1,507.2 1453.6,505.2 1455.1,503.1 1456.6,501.1 1458.1,499.1 1459.6,497.0 1461.1,495.0 1462.6,493.0 1464.1,491.0 1465.6,488.9 1467.2,486.8 1468.7,484.7 1470.2,482.5 1471.7,480.3 1473.2,478.2 1474.7,476.1 1476.2,474.0 1477.7,472.0 1479.2,470.1 1480.7,468.2 1482.2,466.5 1483.7,465.0 1485.2,463.5 1486.8,462.1 1488.3,460.7 1489.8,459.4 1491.3,458.1 1492.8,456.8 1494.3,455.5 1495.8,454.1 1497.3,452.7 1498.8,451.3 1500.3,449.8 1501.8,448.2 1503.3,446.6 1504.8,445.0 1506.4,443.3 1507.9,441.7 1509.4,440.0 1510.9,438.3 1512.4,436.6 1513.9,434.9 1515.4,433.2 1516.9,431.5 1518.4,429.7 1519.9,428.0 1521.4,426.2 1522.9,424.4 1524.4,422.6 1526.0,420.8 1527.5,419.0 1529.0,417.2 1530.5,415.4 1532.0,413.6 1533.5,411.7 1535.0,409.9 1536.5,408.0 1538.0,406.2 1539.5,404.3 1541.0,402.5 1542.5,400.7 1544.0,398.9 1545.6,397.2 1547.1,395.4 1548.6,393.7 1550.1,392.0 1551.6,390.4 1553.1,388.8 1554.6,387.2 1556.1,385.9 1557.6,384.6 1559.1,383.5 1560.6,382.4 1562.1,381.3 1563.6,380.1 1565.2,378.7 1566.7,377.1 1568.2,375.3 1569.7,373.3 1571.2,371.1 1572.7,368.6 1574.2,365.9 1575.7,363.2 1577.2,360.7 1578.7,358.6 1580.2,356.9 1581.7,355.4 1583.2,354.0 1584.8,352.7 1586.3,351.4 1587.8,350.0 1589.3,348.7 1590.8,347.4 1592.3,346.0 1593.8,344.7 1595.3,343.3 1596.8,341.7 1598.3,340.0 1599.8,338.1 1601.3,336.0 1602.8,333.9 1604.4,331.7 1605.9,329.6 1607.4,327.7 1608.9,325.9 1610.4,324.2 1611.9,322.4 1613.4,320.3 1614.9,317.5 1616.4,314.5 1617.9,311.7 1619.4,309.4 1620.9,307.4 1622.4,305.5 1624.0,303.7 1625.5,302.0 1627.0,300.3 1628.5,298.7 1630.0,297.2 1631.5,295.7 1633.0,294.4 1634.5,293.2 1636.0,292.1 1637.5,291.0 1639.0,290.0 1640.5,289.1 1642.0,288.4 1643.6,287.8 1645.1,287.3 1646.6,286.8 1648.1,286.3 1649.6,285.7 1651.1,284.9 1652.6,284.1 1654.1,283.3 1655.6,282.5 1657.1,281.8 1658.6,281.3 1660.1,280.9 1661.7,280.6 1663.2,280.3 1664.7,280.0 1666.2,279.7 1667.7,279.3 1669.2,278.8 1670.7,278.0 1672.2,276.9 1673.7,275.8 1675.2,274.6 1676.7,273.7 1678.2,273.0 1679.7,272.5 1681.3,272.2 1682.8,271.9 1684.3,271.5 1685.8,271.2 1687.3,270.7 1688.8,270.0 1690.3,269.2 1691.8,268.5 1693.3,268.1 1694.8,268.1 1696.3,268.3 1697.8,268.6 1699.3,268.9 1700.9,269.5 1702.4,270.3 1703.9,271.3 1705.4,272.2 1706.9,272.9 1708.4,273.6 1709.9,274.3 1711.4,275.3 1712.9,276.6 1714.4,278.4 1715.9,280.4 1717.4,282.5 1718.9,284.7 1720.5,287.2 1722.0,289.7 1723.5,292.2 1725.0,294.7 1726.5,297.3 1728.0,299.8 1729.5,301.9 1731.0,303.6 1732.5,305.3 1734.0,306.9 1735.5,308.1 1737.0,308.7 1738.5,308.6 1740.1,307.9 1741.6,306.9 1743.1,305.8 1744.6,304.6 1746.1,303.4 1747.6,302.0 1749.1,300.6 1750.6,299.3 1752.1,298.1 1753.6,296.9 1755.1,295.8 1756.6,294.7 1758.1,293.8 1759.7,292.9 1761.2,292.1 1762.7,291.3 1764.2,290.6 1765.7,289.9 1767.2,289.3 1768.7,288.8" fill="none" stroke="#ff0000" stroke-width="2" stroke-linejoin="round" shape-rendering="crispEdges"/>
<polyline points="96.0,601.6 97.5,601.5 99.0,601.3 100.5,601.1 102.0,601.0 103.5,600.8 105.0,600.6 106.5,600.5 108.0,600.3 109.5,600.1 111.0,599.9 112.5,599.7 114.0,599.5 115.5,599.3 117.0,599.1 118.5,598.9 120.0,598.7 121.5,598.4 123.0,598.2 124.5,598.0 126.0,597.8 127.5,597.5 129.0,597.3 130.5,597.1 132.0,596.8 133.6,596.6 135.1,596.3 136.6,596.1 138.1,595.8 139.6,595.6 141.1,595.3 142.6,595.1 144.1,594.8 145.6,594.5 147.1,594.2 148.6,594.0 150.1,593.7 151.6,593.4 153.1,593.1 154.6,592.8 156.1,592.5 157.6,592.1 159.1,591.8 160.6,591.5 162.1,591.2 163.6,590.8 165.1,590.5 166.6,590.1 168.1,589.8 169.6,589.4 171.1,589.1 172.6,588.7 174.1,588.3 175.6,587.9 177.1,587.6 178.6,587.2 180.1,586.8 181.6,586.4 183.1,586.0 184.6,585.5 186.1,585.1 187.6,584.7 189.1,584.2 190.6,583.8 192.1,583.3 193.6,582.8 195.1,582.3 196.6,581.9 198.1,581.4 199.6,580.9 201.1,580.4 202.6,579.8 204.1,579.3 205.6,578.8 207.2,578.3 208.7,577.7 210.2,577.2 211.7,576.7 213.2,576.1 214.7,575.6 216.2,575.0 217.7,574.5 219.2,573.9 220.7,573.4 222.2,572.8 223.7,572.3 225.2,571.7 226.7,571.2 228.2,570.6 229.7,570.0 231.2,569.5 232.7,568.9 234.2,568.4 235.7,567.8 237.2,567.2 238.7,566.7 240.2,566.1 241.7,565.5 243.2,564.9 244.7,564.3 246.2,563.8 247.7,563.2 249.2,562.6 250.7,562.0 252.2,561.4 253.7,560.8 255.2,560.2 256.7,559.5 258.2,558.9 259.7,558.3 261.2,557.7 262.7,557.1 264.2,556.4 265.7,555.8 267.2,555.1 268.7,554.5 270.2,553.9 271.7,553.2 273.2,552.5 274.7,551.9 276.2,551.2 277.7,550.6 279.2,549.9 280.8,549.2 282.3,548.5 283.8,547.8 285.3,547.1 286.8,546.4 288.3,545.7 289.8,545.0 291.3,544.3 292.8,543.6 294.3,542.9 295.8,542.2 297.3,541.4 298.8,540.7 300.3,540.0 301.8,539.2 303.3,538.5 304.8,537.7 306.3,536.9 307.8,536.2 309.3,535.4 310.8,534.6 312.3,533.8 313.8,533.0 315.3,532.2 316.8,531.4 318.3,530.6 319.8,529.8 321.3,529.0 322.8,528.1 324.3,527.3 325.8,526.4 327.3,525.6 328.8,524.7 330.3,523.8 331.8,522.9 333.3,521.9 334.8,521.0 336.3,520.1 337.8,519.1 339.3,518.1 340.8,517.2 342.3,516.2 343.8,515.2 345.3,514.2 346.8,513.2 348.3,512.2 349.8,511.2 351.3,510.2 352.8,509.2 354.3,508.2 355.9,507.2 357.4,506.2 358.9,505.3 360.4,504.3 361.9,503.3 363.4,502.3 364.9,501.3 366.4,500.3 367.9,499.3 369.4,498.3 370.9,497.3 372.4,496.3 373.9,495.3 375.4,494.3 376.9,493.3 378.4,492.3 379.9,491.3 381.4,490.3 382.9,489.3 384.4,488.2 385.9,487.2 387.4,486.2 388.9,485.2 390.4,484.2 391.9,483.2 393.4,482.2 394.9,481.2 396.4,480.1 397.9,479.1 399.4,478.1 400.9,477.1 402.4,476.1 403.9,475.1 405.4,474.1 406.9,473.1 408.4,472.1 409.9,471.1 411.4,470.0 412.9,469.0 414.4,467.9 415.9,466.8 417.4,465.8 418.9,464.7 420.4,463.6 421.9,462.5 423.4,461.4 424.9,460.3 426.4,459.2 427.9,458.0 429.5,456.9 431.0,455.8 432.5,454.7 434.0,453.5 435.5,452.4 437.0,451.3 438.5,450.1 440.0,449.0 441.5,447.9 443.0,446.7 444.5,445.6 446.0,444.4 447.5,443.3 449.0,442.1 450.5,441.0 452.0,439.8 453.5,438.7 455.0,437.5 456.5,436.3 458.0,435.2 459.5,434.0 461.0,432.8 462.5,431.6 464.0,430.4 465.5,429.3 467.0,428.1 468.5,426.9 470.0,425.7 471.5,424.5 473.0,423.3 474.5,422.0 476.0,420.8 477.5,419.5 479.0,418.3 480.5,417.1 482.0,416.0 483.5,414.9 485.0,413.8 486.5,412.7 488.0,411.6 489.5,410.5 491.0,409.5 492.5,408.4 494.0,407.3 495.5,406.3 497.0,405.3 498.5,404.2 500.0,403.2 501.5,402.1 503.1,401.0 504.6,400.0 506.1,398.9 507.6,397.8 509.1,396.7 510.6,395.6 512.1,394.4 513.6,393.3 515.1,392.1 516.6,390.9 518.1,389.7 519.6,388.5 521.1,387.3 522.6,386.1 524.1,384.9 525.6,383.7 527.1,382.5 528.6,381.3 530.1,380.0 531.6,378.8 533.1,377.6 534.6,376.4 536.1,375.2 537.6,374.0 539.1,372.8 540.6,371.6 542.1,370.4 543.6,369.3 545.1,368.1 546.6,367.0 548.1,365.8 549.6,364.7 551.1,363.6 552.6,362.5 554.1,361.4 555.6,360.3 557.1,359.2 558.6,358.1 560.1,357.0 561.6,355.9 563.1,354.8 564.6,353.7 566.1,352.6 567.6,351.6 569.1,350.5 570.6,349.4 572.1,348.3 573.6,347.2 575.1,346.1 576.7,345.0 578.2,343.9 579.7,342.8 581.2,341.7 582.7,340.6 584.2,339.5 585.7,338.4 587.2,337.3 588.7,336.2 590.2,335.1 591.7,334.0 593.2,332.9 594.7,331.9 596.2,330.8 597.7,329.8 599.2,328.7 600.7,327.7 602.2,326.7 603.7,325.6 605.2,324.6 606.7,323.6 608.2,322.6 609.7,321.5 611.2,320.5 612.7,319.5 614.2,318.5 615.7,317.5 617.2,316.5 618.7,315.5 620.2,314.5 621.7,313.5 623.2,312.5 624.7,311.5 626.2,310.5 627.7,309.5 629.2,308.5 630.7,307.5 632.2,306.6 633.7,305.6 635.2,304.6 636.7,303.6 638.2,302.6 639.7,301.6 641.2,300.7 642.7,299.7 644.2,298.7 645.7,297.8 647.2,296.8 648.7,295.9 650.3,294.9 651.8,294.0 653.3,293.0 654.8,292.1 656.3,291.2 657.8,290.3 659.3,289.4 660.8,288.4 662.3,287.5 663.8,286.6 665.3,285.7 666.8,284.9 668.3,284.0 669.8,283.1 671.3,282.2 672.8,281.4 674.3,280.6 675.8,279.7 677.3,278.9 678.8,278.1 680.3,277.3 681.8,276.6 683.3,275.8 684.8,275.1 686.3,274.3 687.8,273.6 689.3,272.9 690.8,272.2 692.3,271.5 693.8,270.7 695.3,270.0 696.8,269.3 698.3,268.6 699.8,267.9 701.3,267.2 702.8,266.5 704.3,265.8 705.8,265.1 707.3,264.3 708.8,263.6 710.3,262.8 711.8,262.0 713.3,261.3 714.8,260.5 716.3,259.8 717.8,259.0 719.3,258.3 720.8,257.6 722.3,256.9 723.8,256.2 725.4,255.5 726.9,254.9 728.4,254.3 729.9,253.8 731.4,253.2 732.9,252.7 734.4,252.1 735.9,251.6 737.4,251.1 738.9,250.6 740.4,250.1 741.9,249.7 743.4,249.2 744.9,248.7 746.4,248.2 747.9,247.7 749.4,247.3 750.9,246.8 752.4,246.3 753.9,245.8 755.4,245.3 756.9,244.7 758.4,244.2 759.9,243.7 761.4,243.2 762.9,242.8 764.4,242.3 765.9,241.9 767.4,241.5 768.9,241.1 770.4,240.7 771.9,240.4 773.4,240.1 774.9,239.8 776.4,239.5 777.9,239.2 779.4,238.9 780.9,238.6 782.4,238.4 783.9,238.1 785.4,237.9 786.9,237.7 788.4,237.5 789.9,237.3 791.4,237.1 792.9,237.0 794.4,236.8 795.9,236.7 797.4,236.5 799.0,236.3 800.5,236.2 802.0,236.1 803.5,235.9 805.0,235.8 806.5,235.7 808.0,235.6 809.5,235.5 811.0,235.4 812.5,235.3 814.0,235.3 815.5,235.2 817.0,235.2 818.5,235.2 820.0,235.2 821.5,235.3 823.0,235.3 824.5,235.4 826.0,235.5 827.5,235.6 829.0,235.6 830.5,235.8 832.0,235.9 833.5,236.0 835.0,236.1 836.5,236.2 838.0,236.3 839.5,236.5 841.0,236.6 842.5,236.8 844.0,237.0 845.5,237.2 847.0,237.4 848.5,237.6 850.0,237.8 851.5,238.1 853.0,238.3 854.5,238.6 856.0,238.9 857.5,239.2 859.0,239.5 860.5,239.8 862.0,240.2 863.5,240.6 865.0,241.0 866.5,241.5 868.0,241.9 869.5,242.4 871.0,242.8 872.6,243.3 874.1,243.8 875.6,244.3 877.1,244.8 878.6,245.3 880.1,245.8 881.6,246.4 883.1,246.9 884.6,247.5 886.1,248.1 887.6,248.7 889.1,249.2 890.6,249.8 892.1,250.4 893.6,251.0 895.1,251.6 896.6,252.2 898.1,252.8 899.6,253.3" fill="none" stroke="#000000" stroke-width="2" stroke-linejoin="round" shape-rendering="crispEdges"/>
<polyline points="96.0,601.0 97.5,600.9 99.0,600.7 100.5,600.5 102.0,600.4 103.5,600.2 105.0,600.0 106.5,599.9 108.0,599.7 109.5,599.5 111.0,599.3 112.5,599.1 114.0,598.9 115.5,598.7 117.0,598.5 118.5,598.3 120.0,598.1 121.5,597.8 123.0,597.6 124.5,597.4 126.0,597.2 127.5,596.9 129.0,596.7 130.5,596.5 132.0,596.2 133.6,596.0 135.1,595.7 136.6,595.5 138.1,595.2 139.6,595.0 141.1,594.7 142.6,594.5 144.1,594.2 145.6,593.9 147.1,593.6 148.6,593.4 150.1,593.1 151.6,592.8 153.1,592.5 154.6,592.2 156.1,591.9 157.6,591.5 159.1,591.2 160.6,590.9 162.1,590.6 163.6,590.2 165.1,589.9 166.6,589.5 168.1,589.2 169.6,588.8 171.1,588.5 172.6,588.1 174.1,587.7 175.6,587.3 177.1,587.0 178.6,586.6 180.1,586.2 181.6,585.8 183.1,585.4 184.6,584.9 186.1,584.5 187.6,584.1 189.1,583.6 190.6,583.2 192.1,582.7 193.6,582.2 195.1,581.7 196.6,581.3 198.1,580.8 199.6,580.3 201.1,579.8 202.6,579.2 204.1,578.7 205.6,578.2 207.2,577.7 208.7,577.1 210.2,576.6 211.7,576.1 213.2,575.5 214.7,575.0 216.2,574.4 217.7,573.9 219.2,573.3 220.7,572.8 222.2,572.2 223.7,571.7 225.2,571.1 226.7,570.6 228.2,570.0 229.7,569.4 231.2,568.9 232.7,568.3 234.2,567.8 235.7,567.2 237.2,566.6 238.7,566.1 240.2,565.5 241.7,564.9 243.2,564.3 244.7,563.7 246.2,563.2 247.7,562.6 249.2,562.0 250.7,561.4 252.2,560.8 253.7,560.2 255.2,559.6 256.7,558.9 258.2,558.3 259.7,557.7 261.2,557.1 262.7,556.5 264.2,555.8 265.7,555.2 267.2,554.5 268.7,553.9 270.2,553.3 271.7,552.6 273.2,551.9 274.7,551.3 276.2,550.6 277.7,550.0 279.2,549.3 280.8,548.6 282.3,547.9 283.8,547.2 285.3,546.5 286.8,545.8 288.3,545.1 289.8,544.4 291.3,543.7 292.8,543.0 294.3,542.3 295.8,541.6 297.3,540.8 298.8,540.1 300.3,539.4 301.8,538.6 303.3,537.9 304.8,537.1 306.3,536.3 307.8,535.6 309.3,534.8 310.8,534.0 312.3,533.2 313.8,532.4 315.3,531.6 316.8,530.8 318.3,530.0 319.8,529.2 321.3,528.4 322.8,527.5 324.3,526.7 325.8,525.8 327.3,525.0 328.8,524.1 330.3,523.2 331.8,522.3 333.3,521.3 334.8,520.4 336.3,519.5 337.8,518.5 339.3,517.5 340.8,516.6 342.3,515.6 343.8,514.6 345.3,513.6 346.8,512.6 348.3,511.6 349.8,510.6 351.3,509.6 352.8,508.6 354.3,507.6 355.9,506.6 357.4,505.6 358.9,504.7 360.4,503.7 361.9,502.7 363.4,501.7 364.9,500.7 366.4,499.7 367.9,498.7 369.4,497.7 370.9,496.7 372.4,495.7 373.9,494.7 375.4,493.7 376.9,492.7 378.4,491.7 379.9,490.7 381.4,489.7 382.9,488.7 384.4,487.6 385.9,486.6 387.4,485.6 388.9,484.6 390.4,483.6 391.9,482.6 393.4,481.6 394.9,480.6 396.4,479.5 397.9,478.5 399.4,477.5 400.9,476.5 402.4,475.5 403.9,474.5 405.4,473.5 406.9,472.5 408.4,471.5 409.9,470.5 411.4,469.4 412.9,468.4 414.4,467.3 415.9,466.2 417.4,465.2 418.9,464.1 420.4,463.0 421.9,461.9 423.4,460.8 424.9,459.7 426.4,458.6 427.9,457.4 429.5,456.3 431.0,455.2 432.5,454.1 434.0,452.9 435.5,451.8 437.0,450.7 438.5,449.5 440.0,448.4 441.5,447.3 443.0,446.1 444.5,445.0 446.0,443.8 447.5,442.7 449.0,441.5 450.5,440.4 452.0,439.2 453.5,438.1 455.0,436.9 456.5,435.7 458.0,434.6 459.5,433.4 461.0,432.2 462.5,431.1 464.0,429.9 465.5,428.7 467.0,427.5 468.5,426.3 470.0,425.1 471.5,423.9 473.0,422.7 474.5,421.5 476.0,420.2 477.5,419.0 479.0,417.8 480.5,416.6 482.0,415.5 483.5,414.3 485.0,413.2 486.5,412.1 488.0,411.1 489.5,410.0 491.0,408.9 492.5,407.9 494.0,406.8 495.5,405.8 497.0,404.7 498.5,403.7 500.0,402.7 501.5,401.6 503.1,400.5 504.6,399.5 506.1,398.4 507.6,397.3 509.1,396.2 510.6,395.1 512.1,393.9 513.6,392.8 515.1,391.6 516.6,390.4 518.1,389.3 519.6,388.1 521.1,386.9 522.6,385.7 524.1,384.4 525.6,383.2 527.1,382.0 528.6,380.8 530.1,379.6 531.6,378.4 533.1,377.1 534.6,375.9 536.1,374.7 537.6,373.5 539.1,372.3 540.6,371.2 542.1,370.0 543.6,368.8 545.1,367.7 546.6,366.5 548.1,365.4 549.6,364.3 551.1,363.2 552.6,362.1 554.1,361.0 555.6,359.9 557.1,358.8 558.6,357.7 560.1,356.6 561.6,355.5 563.1,354.4 564.6,353.3 566.1,352.3 567.6,351.2 569.1,350.1 570.6,349.0 572.1,347.9 573.6,346.8 575.1,345.7 576.7,344.6 578.2,343.5 579.7,342.4 581.2,341.3 582.7,340.2 584.2,339.1 585.7,338.0 587.2,336.9 588.7,335.8 590.2,334.7 591.7,333.7 593.2,332.6 594.7,331.5 596.2,330.5 597.7,329.4 599.2,328.4 600.7,327.4 602.2,326.3 603.7,325.3 605.2,324.3 606.7,323.3 608.2,322.2 609.7,321.2 611.2,320.2 612.7,319.2 614.2,318.2 615.7,317.2 617.2,316.2 618.7,315.2 620.2,314.2 621.7,313.2 623.2,312.2 624.7,311.2 626.2,310.2 627.7,309.2 629.2,308.2 630.7,307.2 632.2,306.3 633.7,305.3 635.2,304.3 636.7,303.3 638.2,302.3 639.7,301.3 641.2,300.4 642.7,299.4 644.2,298.4 645.7,297.5 647.2,296.5 648.7,295.6 650.3,294.6 651.8,293.7 653.3,292.7 654.8,291.8 656.3,290.9 657.8,290.0 659.3,289.1 660.8,288.1 662.3,287.2 663.8,286.3 665.3,285.4 666.8,284.6 668.3,283.7 669.8,282.8 671.3,281.9 672.8,281.1 674.3,280.3 675.8,279.4 677.3,278.6 678.8,277.8 680.3,277.0 681.8,276.3 683.3,275.5 684.8,274.8 686.3,274.0 687.8,273.3 689.3,272.6 690.8,271.9 692.3,271.2 693.8,270.4 695.3,269.7 696.8,269.0 698.3,268.3 699.8,267.6 701.3,266.9 702.8,266.2 704.3,265.5 705.8,264.8 707.3,264.0 708.8,263.3 710.3,262.5 711.8,261.7 713.3,261.0 714.8,260.2 716.3,259.5 717.8,258.7 719.3,258.0 720.8,257.3 722.3,256.6 723.8,255.9 725.4,255.2 726.9,254.6 728.4,254.0 729.9,253.5 731.4,252.9 732.9,252.4 734.4,251.8 735.9,251.3 737.4,250.8 738.9,250.3 740.4,249.8 741.9,249.4 743.4,248.9 744.9,248.4 746.4,247.9 747.9,247.4 749.4,247.0 750.9,246.5 752.4,246.0 753.9,245.5 755.4,245.0 756.9,244.4 758.4,243.9 759.9,243.4 761.4,242.9 762.9,242.5 764.4,242.0 765.9,241.6 767.4,241.2 768.9,240.8 770.4,240.4 771.9,240.1 773.4,239.8 774.9,239.5 776.4,239.2 777.9,238.9 779.4,238.6 780.9,238.3 782.4,238.1 783.9,237.8 785.4,237.6 786.9,237.4 788.4,237.2 789.9,237.0 791.4,236.8 792.9,236.7 794.4,236.5 795.9,236.4 797.4,236.2 799.0,236.0 800.5,235.9 802.0,235.8 803.5,235.6 805.0,235.5 806.5,235.4 808.0,235.3 809.5,235.2 811.0,235.1 812.5,235.0 814.0,235.0 815.5,234.9 817.0,234.9 818.5,234.9 820.0,234.9 821.5,235.0 823.0,235.0 824.5,235.1 826.0,235.2 827.5,235.3 829.0,235.3 830.5,235.5 832.0,235.6 833.5,235.7 835.0,235.8 836.5,235.9 838.0,236.0 839.5,236.2 841.0,236.3 842.5,236.5 844.0,236.7 845.5,236.9 847.0,237.1 848.5,237.3 850.0,237.5 851.5,237.8 853.0,238.0 854.5,238.3 856.0,238.6 857.5,238.9 859.0,239.2 860.5,239.5 862.0,239.9 863.5,240.3 865.0,240.7 866.5,241.2 868.0,241.6 869.5,242.1 871.0,242.5 872.6,243.0 874.1,243.5 875.6,244.0 877.1,244.5 878.6,245.0 880.1,245.5 881.6,246.1 883.1,246.6 884.6,247.2 886.1,247.8 887.6,248.4 889.1,248.9 890.6,249.5 892.1,250.1 893.6,250.7 895.1,251.3 896.6,251.9 898.1,252.5 899.6,253.0 901.1,253.6 902.6,254.2 904.1,254.7 905.6,255.3 907.1,255.9 908.6,256.5 910.1,257.1 911.6,257.7 913.1,258.3 914.6,258.9 916.1,259.5 917.6,260.2 919.1,260.9 920.6,261.6 922.1,262.3 923.6,263.0 925.1,263.8 926.6,264.5 928.1,265.2 929.6,265.8 931.1,266.5 932.6,267.1 934.1,267.8 935.6,268.5 937.1,269.2 938.6,269.8 940.1,270.5 941.6,271.1 943.1,271.7 944.6,272.3 946.2,272.9 947.7,273.4 949.2,273.9 950.7,274.3 952.2,274.7 953.7,275.0 955.2,275.4 956.7,275.7 958.2,276.0 959.7,276.3 961.2,276.5 962.7,276.7 964.2,276.9 965.7,276.9 967.2,276.9 968.7,276.9 970.2,276.9 971.7,276.9 973.2,276.9 974.7,276.9 976.2,276.9 977.7,276.9 979.2,276.9 980.7,276.9 982.2,276.9 983.7,276.9 985.2,276.9 986.7,276.8 988.2,276.6 989.7,276.3 991.2,275.9 992.7,275.5 994.2,275.1 995.7,274.6 997.2,274.2 998.7,273.7 1000.2,273.3 1001.7,272.8 1003.2,272.3 1004.7,271.7 1006.2,271.1 1007.7,270.5 1009.2,269.8 1010.7,269.1 1012.2,268.5 1013.7,267.8 1015.2,267.1 1016.7,266.4 1018.2,265.8 1019.8,265.1 1021.3,264.5 1022.8,264.0 1024.3,263.4 1025.8,262.8 1027.3,262.3 1028.8,261.7 1030.3,261.2 1031.8,260.7 1033.3,260.2 1034.8,259.6 1036.3,259.1 1037.8,258.6 1039.3,258.1 1040.8,257.6 1042.3,257.1 1043.8,256.6 1045.3,256.1 1046.8,255.7 1048.3,255.2 1049.8,254.8 1051.3,254.4 1052.8,254.1 1054.3,253.8 1055.8,253.5 1057.3,253.2 1058.8,253.0 1060.3,252.8 1061.8,252.6 1063.3,252.3 1064.8,252.1 1066.3,252.0 1067.8,251.8 1069.3,251.6 1070.8,251.4 1072.3,251.3 1073.8,251.1 1075.3,251.0 1076.8,250.8 1078.3,250.7 1079.8,250.5 1081.3,250.4 1082.8,250.2 1084.3,250.1 1085.8,250.1 1087.3,250.0 1088.8,250.0 1090.3,249.9 1091.8,249.9 1093.3,249.9 1094.9,249.8 1096.4,249.8 1097.9,249.8 1099.4,249.8 1100.9,249.7 1102.4,249.7 1103.9,249.7 1105.4,249.7 1106.9,249.7 1108.4,249.7 1109.9,249.7 1111.4,249.7 1112.9,249.7 1114.4,249.7 1115.9,249.7 1117.4,249.7 1118.9,249.7 1120.4,249.7 1121.9,249.7 1123.4,249.7 1124.9,249.9 1126.4,250.0 1127.9,250.3 1129.4,250.6 1130.9,250.9 1132.4,251.2 1133.9,251.6 1135.4,251.9 1136.9,252.3 1138.4,252.7 1139.9,253.2 1141.4,253.8 1142.9,254.4 1144.4,255.0 1145.9,255.7 1147.4,256.5 1148.9,257.3 1150.4,258.2 1151.9,259.2 1153.4,260.2 1154.9,261.4 1156.4,262.5 1157.9,263.7 1159.4,264.9 1160.9,266.1 1162.4,267.4 1163.9,268.7 1165.4,270.1 1166.9,271.5 1168.5,272.8 1170.0,274.2 1171.5,275.5 1173.0,276.8 1174.5,278.2 1176.0,279.6 1177.5,281.0 1179.0,282.4 1180.5,283.5 1182.0,284.5 1183.5,285.3 1185.0,285.9 1186.5,286.5 1188.0,287.0 1189.5,287.4 1191.0,287.7 1192.5,287.7 1194.0,287.6 1195.5,287.4 1197.0,287.1 1198.5,286.7 1200.0,286.3 1201.5,285.8 1203.0,285.0 1204.5,284.2 1206.0,283.3 1207.5,282.4 1209.0,281.6 1210.5,280.6 1212.0,279.7 1213.5,278.7 1215.0,277.7 1216.5,276.7 1218.0,275.8 1219.5,274.9 1221.0,274.2 1222.5,273.5 1224.0,272.8 1225.5,272.1 1227.0,271.4 1228.5,270.8 1230.0,270.4 1231.5,270.1 1233.0,270.1 1234.5,270.0 1236.0,270.0 1237.5,269.9 1239.0,269.9 1240.5,269.9 1242.1,270.0 1243.6,270.5 1245.1,271.0 1246.6,271.7 1248.1,272.3 1249.6,272.8 1251.1,273.3 1252.6,273.9 1254.1,274.5 1255.6,275.0 1257.1,275.4 1258.6,275.6 1260.1,275.6 1261.6,275.6 1263.1,275.6 1264.6,275.6 1266.1,275.6 1267.6,275.6 1269.1,275.6 1270.6,275.6 1272.1,275.6 1273.6,275.6 1275.1,275.6 1276.6,275.6 1278.1,275.6 1279.6,275.6 1281.1,275.6 1282.6,275.6 1284.1,275.7 1285.6,275.7 1287.1,275.8 1288.6,275.8 1290.1,275.9 1291.6,276.0 1293.1,276.1 1294.6,276.2 1296.1,276.5 1297.6,277.0 1299.1,277.5 1300.6,277.8 1302.1,277.9 1303.6,277.9 1305.1,277.9 1306.6,277.9 1308.1,277.9 1309.6,277.9 1311.1,277.9 1312.6,277.9 1314.1,277.9 1315.7,277.3 1317.2,276.3 1318.7,275.0 1320.2,273.7 1321.7,272.5 1323.2,271.2 1324.7,269.8 1326.2,268.4 1327.7,266.9 1329.2,265.4 1330.7,263.8 1332.2,262.3 1333.7,260.6 1335.2,258.8 1336.7,257.2 1338.2,255.7 1339.7,254.4 1341.2,253.2 1342.7,252.1 1344.2,251.1 1345.7,250.3 1347.2,249.7 1348.7,249.3 1350.2,248.9 1351.7,248.6 1353.2,248.4 1354.7,248.2 1356.2,248.0 1357.7,247.8 1359.2,247.7 1360.7,247.6 1362.2,247.5 1363.7,247.4 1365.2,247.3 1366.7,247.1 1368.2,246.9 1369.7,246.5 1371.2,245.8 1372.7,245.0 1374.2,244.1 1375.7,243.3 1377.2,242.7 1378.7,242.3 1380.2,242.0 1381.7,241.7 1383.2,241.4 1384.7,241.2 1386.2,241.1 1387.7,241.1 1389.3,241.2 1390.8,241.3 1392.3,241.5 1393.8,241.7 1395.3,242.0 1396.8,242.6 1398.3,243.7 1399.8,245.2 1401.3,246.7 1402.8,248.2 1404.3,249.5 1405.8,250.9 1407.3,252.3 1408.8,253.6 1410.3,255.0 1411.8,256.3 1413.3,257.6 1414.8,259.1 1416.3,260.6 1417.8,262.0 1419.3,262.8 1420.8,262.9 1422.3,262.9 1423.8,262.9 1425.3,262.9 1426.8,262.9 1428.3,262.9 1429.8,262.9 1431.3,262.7 1432.8,262.0 1434.3,260.7 1435.8,259.3 1437.3,257.8 1438.8,256.4 1440.3,255.0 1441.8,253.3 1443.3,251.7 1444.8,250.1 1446.3,248.9 1447.8,248.0 1449.3,247.5 1450.8,246.9 1452.3,246.5 1453.8,246.2 1455.3,246.0 1456.8,246.0 1458.3,246.2 1459.8,246.4 1461.3,246.7 1462.9,247.0 1464.4,247.4 1465.9,247.8 1467.4,248.4 1468.9,248.9 1470.4,249.6 1471.9,250.3 1473.4,251.0 1474.9,251.7 1476.4,252.4 1477.9,253.3 1479.4,254.2 1480.9,255.1 1482.4,256.1 1483.9,257.1 1485.4,258.2 1486.9,259.4 1488.4,260.8 1489.9,262.6 1491.4,264.5 1492.9,266.2 1494.4,267.6 1495.9,268.4 1497.4,268.5 1498.9,268.5 1500.4,268.5 1501.9,268.5 1503.4,268.5 1504.9,268.3 1506.4,267.3 1507.9,265.8 1509.4,264.3 1510.9,262.8 1512.4,261.1 1513.9,259.2 1515.4,257.6 1516.9,256.4 1518.4,255.9 1519.9,255.5 1521.4,255.2 1522.9,255.0 1524.4,255.0 1525.9,255.0 1527.4,255.0 1528.9,255.0 1530.4,255.0 1531.9,255.0 1533.4,254.5 1534.9,252.8 1536.4,250.6 1538.0,248.1 1539.5,245.6 1541.0,242.4 1542.5,239.6 1544.0,237.7 1545.5,236.1 1547.0,235.1 1548.5,235.0 1550.0,235.0 1551.5,235.0 1553.0,235.0 1554.5,235.4 1556.0,237.8 1557.5,241.0 1559.0,244.2 1560.5,248.0 1562.0,251.8 1563.5,254.8 1565.0,257.3 1566.5,259.6 1568.0,261.7 1569.5,263.5 1571.0,265.4 1572.5,267.2 1574.0,268.4 1575.5,268.8 1577.0,268.8 1578.5,268.8 1580.0,268.8 1581.5,268.8 1583.0,268.8 1584.5,268.8 1586.0,268.8 1587.5,268.8 1589.0,268.8 1590.5,268.8 1592.0,268.8 1593.5,268.8 1595.0,268.8 1596.5,268.5 1598.0,267.8 1599.5,266.9 1601.0,265.9 1602.5,264.8 1604.0,263.3 1605.5,261.7 1607.0,260.0 1608.5,258.4 1610.0,256.9 1611.6,255.4 1613.1,254.0 1614.6,252.6 1616.1,251.2 1617.6,249.9 1619.1,248.6 1620.6,247.3 1622.1,246.1 1623.6,244.9 1625.1,243.8 1626.6,242.8 1628.1,241.8 1629.6,240.7 1631.1,239.7 1632.6,238.9 1634.1,238.4 1635.6,238.2 1637.1,238.2 1638.6,238.2 1640.1,238.2 1641.6,238.2 1643.1,238.5 1644.6,239.6 1646.1,241.2 1647.6,242.8 1649.1,244.1 1650.6,245.3 1652.1,246.5 1653.6,247.6 1655.1,248.7 1656.6,249.6 1658.1,250.5 1659.6,251.4 1661.1,252.3 1662.6,252.8 1664.1,252.9 1665.6,252.9 1667.1,252.9 1668.6,252.9 1670.1,252.9 1671.6,252.9 1673.1,252.9 1674.6,252.9 1676.1,252.9 1677.6,252.2 1679.1,250.8 1680.6,249.4 1682.1,248.4 1683.6,248.2 1685.2,248.2 1686.7,248.3 1688.2,248.4 1689.7,248.8 1691.2,250.0 1692.7,251.8 1694.2,253.7 1695.7,255.8 1697.2,258.5 1698.7,261.5 1700.2,264.5 1701.7,267.7 1703.2,271.2 1704.7,274.3 1706.2,276.7 1707.7,278.9 1709.2,280.8 1710.7,282.6 1712.2,284.3 1713.7,286.2 1715.2,288.1 1716.7,290.0 1718.2,291.9 1719.7,293.8 1721.2,295.5 1722.7,297.0 1724.2,298.3 1725.7,299.6 1727.2,300.7 1728.7,301.8 1730.2,302.9 1731.7,303.9 1733.2,305.2 1734.7,306.3 1736.2,306.9 1737.7,306.8 1739.2,306.1 1740.7,305.0 1742.2,303.8 1743.7,302.3 1745.2,300.5 1746.7,298.7 1748.2,297.3 1749.7,296.5 1751.2,295.7 1752.7,295.1 1754.2,294.6 1755.7,294.1 1757.2,293.5 1758.8,292.9 1760.3,292.3 1761.8,291.8 1763.3,291.2 1764.8,290.6 1766.3,290.0 1767.8,289.3 1769.3,288.5 1770.8,287.6 1772.3,286.6 1773.8,285.6 1775.3,284.4 1776.8,283.2 1778.3,282.0 1779.8,280.6 1781.3,279.2 1782.8,277.7 1784.3,276.2 1785.8,274.4 1787.3,272.6 1788.8,270.6 1790.3,268.4 1791.8,265.5 1793.3,262.2 1794.8,259.0 1796.3,256.6 1797.8,254.6 1799.3,252.8 1800.8,251.1 1802.3,249.6 1803.8,248.2 1805.3,247.0 1806.8,245.8 1808.3,244.7 1809.8,243.8 1811.3,242.9 1812.8,242.0 1814.3,241.2 1815.8,240.5 1817.3,239.8 1818.8,239.1 1820.3,238.4 1821.8,238.0 1823.3,237.9 1824.8,237.9 1826.3,237.9 1827.8,237.9 1829.3,237.9 1830.8,237.9 1832.4,238.0 1833.9,238.8 1835.4,240.1 1836.9,241.5 1838.4,242.9 1839.9,244.0 1841.4,244.5 1842.9,245.1 1844.4,245.5 1845.9,245.8 1847.4,245.8 1848.9,245.4 1850.4,244.9 1851.9,244.4 1853.4,244.0 1854.9,243.9 1856.4,243.9 1857.9,243.9 1859.4,243.9 1860.9,243.9 1862.4,243.9 1863.9,243.9 1865.4,243.9 1866.9,243.9 1868.4,243.9 1869.9,243.6 1871.4,242.5 1872.9,240.7 1874.4,238.7 1875.9,236.8 1877.4,235.1 1878.9,234.2 1880.4,234.1 1881.9,234.1 1883.4,234.1 1884.9,234.1 1886.4,234.2 1887.9,234.9 1889.4,235.8 1890.9,236.1 1892.4,236.2 1893.9,236.4 1895.4,236.5 1896.9,236.6 1898.4,236.8 1899.9,237.1 1901.4,238.2 1902.9,240.8 1904.4,243.8 1905.9,245.7 1907.5,247.3 1909.0,248.6 1910.5,249.1 1912.0,248.8 1913.5,248.2 1915.0,247.2 1916.5,246.1 1918.0,245.0 1919.5,243.9 1921.0,243.1 1922.5,242.2 1924.0,241.3 1925.5,240.3 1927.0,239.4 1928.5,238.6 1930.0,237.9 1931.5,237.4 1933.0,237.2 1934.5,237.2 1936.0,237.2 1937.5,237.2 1939.0,237.2 1940.5,237.2 1942.0,237.2 1943.5,237.3 1945.0,238.0 1946.5,239.1 1948.0,240.5 1949.5,242.0 1951.0,243.5 1952.5,244.8 1954.0,245.8 1955.5,246.6 1957.0,247.4 1958.5,248.2 1960.0,248.9 1961.5,249.5 1963.0,249.9 1964.5,250.1 1966.0,250.1 1967.5,250.0 1969.0,249.9 1970.5,249.8 1972.0,249.4 1973.5,248.7 1975.0,248.2 1976.5,248.0 1978.0,248.1 1979.5,248.2 1981.1,248.5 1982.6,248.8 1984.1,249.1 1985.6,249.7 1987.1,250.6 1988.6,251.8 1990.1,253.1 1991.6,254.4 1993.1,255.7 1994.6,257.3 1996.1,259.1 1997.6,260.9 1999.1,262.7 2000.6,264.5 2002.1,265.9 2003.6,267.1 2005.1,267.8 2006.6,268.0 2008.1,268.0 2009.6,268.0 2011.1,268.0 2012.6,267.9 2014.1,266.9 2015.6,265.0 2017.1,262.8 2018.6,260.5 2020.1,258.5 2021.6,257.0 2023.1,255.5 2024.6,254.1 2026.1,252.9 2027.6,252.1 2029.1,251.7 2030.6,251.4 2032.1,251.2 2033.6,251.0 2035.1,250.9 2036.6,250.8 2038.1,250.7 2039.6,250.6 2041.1,250.5 2042.6,250.4 2044.1,250.2 2045.6,250.0 2047.1,249.8 2048.6,249.5 2050.1,249.1 2051.6,248.5 2053.1,247.8 2054.7,247.0 2056.2,246.2 2057.7,245.4 2059.2,244.7 2060.7,244.0 2062.2,243.4 2063.7,242.8 2065.2,242.2 2066.7,241.5 2068.2,241.0 2069.7,240.5 2071.2,240.1 2072.7,239.9 2074.2,240.0 2075.7,240.3 2077.2,240.8 2078.7,241.5 2080.2,242.1 2081.7,242.6 2083.2,242.8 2084.7,242.8 2086.2,242.8 2087.7,242.8 2089.2,242.8 2090.7,242.8 2090.7,242.8 2095.8,239.3 2100.9,229.5 2106.0,227.0 2109.1,232.1 2112.1,241.3 2115.2,265.9 2118.3,288.4 2120.9,306.4 2127.1,310.9 2132.0,301.7 2137.3,298.6 2141.8,305.7 2148.3,305.7 2153.6,291.4 2158.1,265.9 2163.3,240.9 2169.4,227.4 2174.5,226.0 2180.6,226.6 2188.8,220.9 2195.6,215.2 2198.0,229.1 2200.1,245.8 2204.1,245.4 2211.3,242.8 2214.4,255.6 2217.0,270.0 2219.1,298.6 2220.9,331.3 2227.2,333.8 2229.7,306.8 2233.4,265.9 2237.1,234.8 2242.0,220.9 2248.1,227.0 2253.2,245.4 2257.3,272.0 2260.4,302.7 2264.0,345.6 2269.2,360.9 2272.6,335.4 2276.3,306.8 2279.8,286.3 2284.9,268.9 2290.4,263.4 2295.1,282.2 2297.8,304.7 2300.2,327.2 2306.0,337.8 2311.5,321.1 2316.2,311.9 2321.7,313.3 2327.4,311.9 2331.9,294.5 2337.4,280.6 2341.1,292.5 2343.4,302.3 2346.2,282.2 2349.3,251.6 2353.0,208.6 2358.1,195.9 2361.6,210.7 2364.6,229.1 2366.7,261.8 2369.3,302.7 2371.8,343.6 2373.4,380.0 2376.5,442.0" fill="none" stroke="#0080ff" stroke-width="2" stroke-linejoin="round" shape-rendering="crispEdges"/>
</g>
<g font-family="'Liberation Sans', Arial, sans-serif" fill="#000" stroke="#000" stroke-width="0.25" style="white-space:pre"><text y="49" font-size="24.05"><tspan x="97.9" textLength="204">FR Magnitude (dB </tspan><tspan x="301.9" textLength="287.6">re 20 uPa/2.83V - 1/24 oct)</tspan></text><text x="2276.1" y="51" font-size="24" textLength="101.9">Phase (°)</text><text x="87.8" y="884.5" font-size="21.5" text-anchor="end">60.0</text><text x="87.8" y="782.2" font-size="21.5" text-anchor="end">65.0</text><text x="87.8" y="680.0" font-size="21.5" text-anchor="end">70.0</text><text x="87.8" y="577.8" font-size="21.5" text-anchor="end">75.0</text><text x="87.8" y="475.5" font-size="21.5" text-anchor="end">80.0</text><text x="87.8" y="373.2" font-size="21.5" text-anchor="end">85.0</text><text x="87.8" y="271.0" font-size="21.5" text-anchor="end">90.0</text><text x="87.8" y="168.8" font-size="21.5" text-anchor="end">95.0</text><text x="87.8" y="66.5" font-size="21.5" text-anchor="end">100.0</text><text x="2388.0" y="474.8" font-size="21.5" text-anchor="start">180.0</text><text x="2394.0" y="577.0" font-size="21.5" text-anchor="start">90.0</text><text x="2400.0" y="679.3" font-size="21.5" text-anchor="start">0.0</text><text x="2388.0" y="781.5" font-size="21.5" text-anchor="start">-90.0</text><text x="2382.0" y="883.8" font-size="21.5" text-anchor="start">-180.0</text><text x="96.0" y="909.2" font-size="21.5" text-anchor="middle">20</text><text x="398.6" y="909.2" font-size="21.5" text-anchor="middle">50</text><text x="627.5" y="909.2" font-size="21.5" text-anchor="middle">100</text><text x="856.3" y="909.2" font-size="21.5" text-anchor="middle">200</text><text x="1158.9" y="909.2" font-size="21.5" text-anchor="middle">500</text><text x="1387.8" y="909.2" font-size="21.5" text-anchor="middle">1k</text><text x="1616.7" y="909.2" font-size="21.5" text-anchor="middle">2k</text><text x="1919.2" y="909.2" font-size="21.5" text-anchor="middle">5k</text><text x="2148.1" y="909.2" font-size="21.5" text-anchor="middle">10k</text><text x="2377.0" y="909.2" font-size="21.5" text-anchor="middle">20k</text><text x="95.8" y="939.0" font-size="21.13" text-anchor="start">Cursor: 1728.57 Hz, 90.05 dB, 39.3 deg</text><text y="969" font-size="21"><tspan x="97.1" textLength="188.6">www.Jobst-Audio.de</tspan><tspan x="285.7">  </tspan><tspan x="298.3">||</tspan><tspan x="309.2">  </tspan><tspan x="322.4" textLength="348.1">JL-Sat12 v3 Einzelwege, Invertierung</tspan><tspan x="670.5">  </tspan><tspan x="682.4">||</tspan><tspan x="693.3">  </tspan><tspan x="705.4" textLength="292.9">Phase mit Bezug auf Hochtöner</tspan></text><text x="2326.3" y="938.7" font-size="21" textLength="51">F(Hz)</text><text x="2382.0" y="79.0" font-size="21.5" text-anchor="start">A</text><text x="2382.6" y="101.0" font-size="21.5" text-anchor="start">R</text><text x="2382.0" y="123.0" font-size="21.5" text-anchor="start">T</text><text x="2382.0" y="145.0" font-size="21.5" text-anchor="start">A</text></g>
</svg>
</body></html>
